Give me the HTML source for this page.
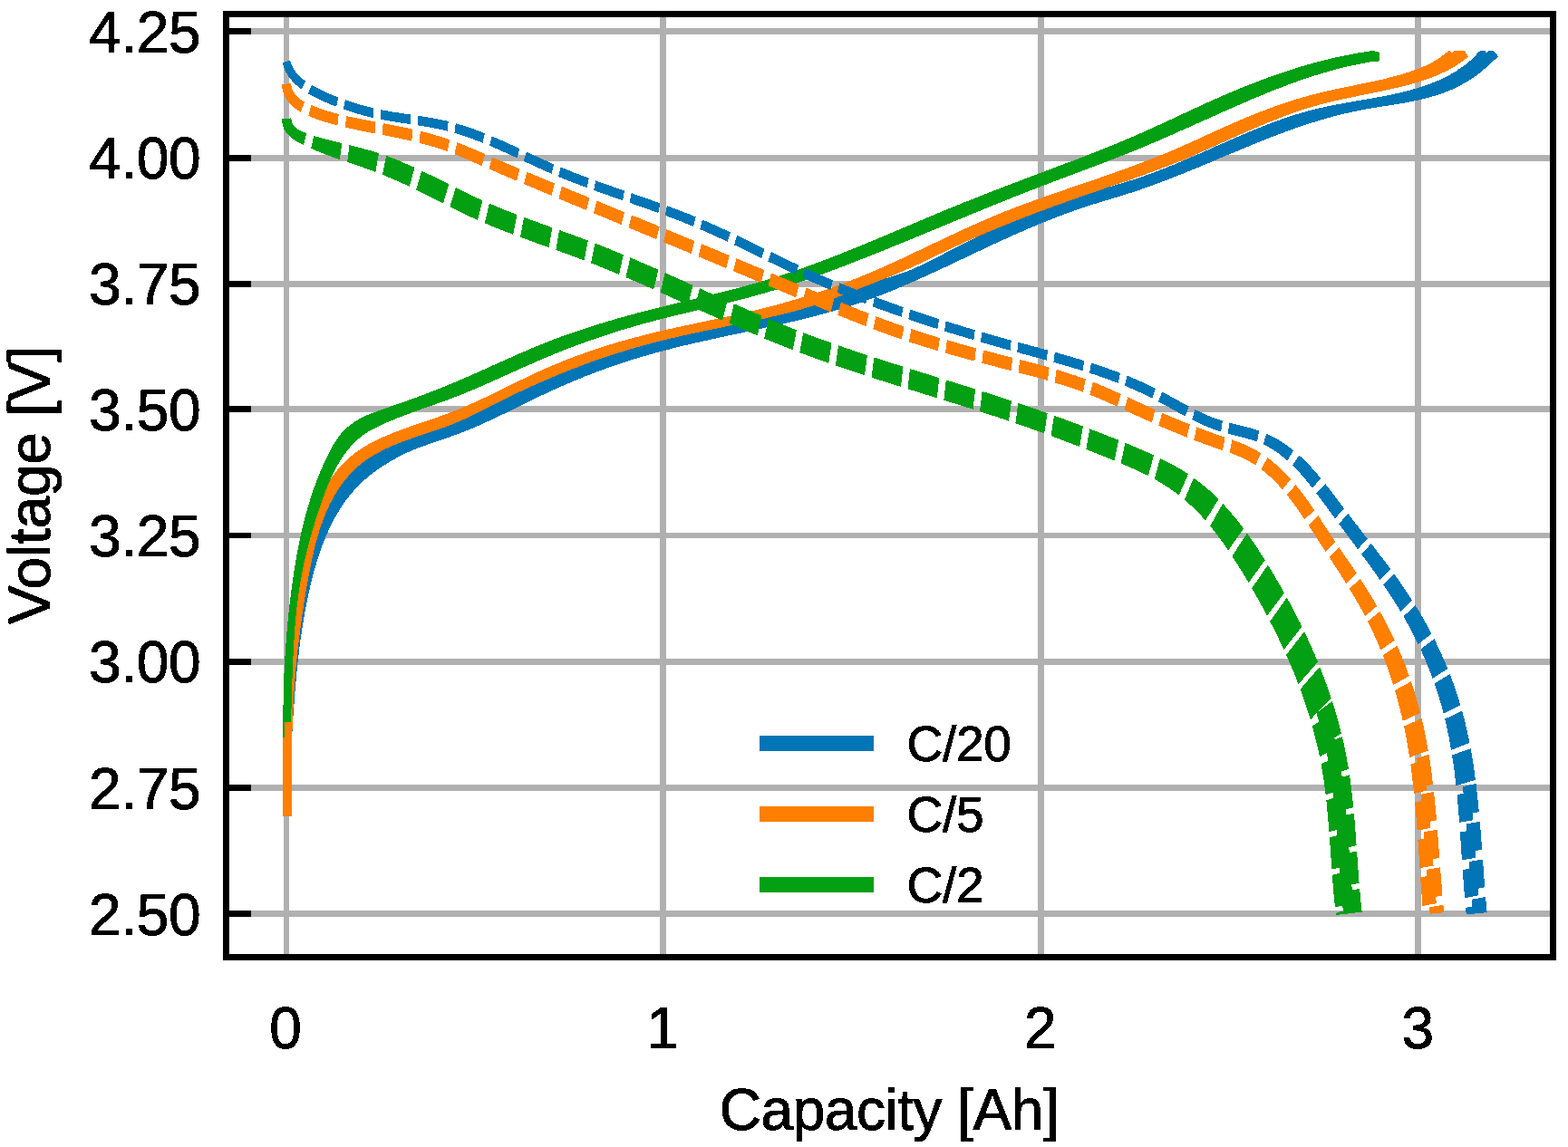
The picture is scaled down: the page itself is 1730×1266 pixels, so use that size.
<!DOCTYPE html>
<html lang="en"><head><meta charset="utf-8"><title>Voltage vs Capacity</title>
<style>
html,body{margin:0;padding:0;background:#fff;}
body{width:1730px;height:1266px;overflow:hidden;}
svg{display:block;}
text{font-family:"Liberation Sans",Arial,Helvetica,sans-serif;fill:#000;stroke:#000;stroke-width:1.0px;stroke-linejoin:round;}
</style></head>
<body>
<svg width="1730" height="1266" viewBox="0 0 1730 1266" font-size="64">
<defs><filter id="al" x="-5%" y="-5%" width="110%" height="110%" color-interpolation-filters="sRGB"><feComponentTransfer><feFuncA type="discrete" tableValues="0 1"/></feComponentTransfer></filter></defs>
<rect width="1730" height="1266" fill="#fff"/>
<g fill="#b0b0b0" shape-rendering="crispEdges">
<rect x="313" y="19" width="6" height="1034"/><rect x="728" y="19" width="7" height="1034"/><rect x="1145" y="19" width="7" height="1034"/><rect x="1561" y="19" width="7" height="1034"/><rect x="253" y="31" width="1457" height="7"/><rect x="253" y="171" width="1457" height="7"/><rect x="253" y="310" width="1457" height="7"/><rect x="253" y="448" width="1457" height="7"/><rect x="253" y="588" width="1457" height="6"/><rect x="253" y="727" width="1457" height="7"/><rect x="253" y="866" width="1457" height="7"/><rect x="253" y="1005" width="1457" height="7"/>
</g>
<g id="curves" shape-rendering="crispEdges">
<path fill="#0175b6" d="M312.3,849.0L312.2,846.0L312.1,843.0L312.0,840.0L311.9,837.0L311.9,834.0L311.9,831.0L311.9,828.0L311.9,825.0L311.9,822.0L312.0,819.0L312.1,816.0L312.2,813.0L312.3,810.0L312.5,807.0L312.6,804.0L312.8,801.0L313.0,798.0L313.2,795.0L313.4,792.1L313.6,789.1L313.9,786.1L314.1,783.1L314.4,780.1L314.7,777.1L315.0,774.1L315.3,771.2L315.6,768.2L315.9,765.2L316.2,762.2L316.5,759.2L316.9,756.2L317.2,753.3L317.5,750.3L317.9,747.3L318.3,744.3L318.6,741.3L319.0,738.4L319.3,735.4L319.7,732.4L320.1,729.4L320.4,726.4L320.8,723.5L321.2,720.5L321.5,717.5L321.9,714.5L322.3,711.5L322.6,708.6L323.0,705.6L323.3,702.6L323.7,699.6L324.1,696.6L324.5,693.7L324.8,690.7L325.2,687.7L325.6,684.7L326.0,681.8L326.4,678.8L326.8,675.8L327.2,672.9L327.7,669.9L328.1,666.9L328.6,664.0L329.0,661.0L329.5,658.0L330.0,655.1L330.5,652.1L331.0,649.2L331.5,646.2L332.1,643.3L332.6,640.3L333.2,637.4L333.8,634.4L334.4,631.5L335.0,628.6L335.7,625.7L336.3,622.7L337.0,619.8L337.7,616.9L338.4,614.0L339.2,611.1L339.9,608.2L340.7,605.3L341.5,602.4L342.3,599.5L343.2,596.6L344.0,593.7L344.9,590.9L345.8,588.0L346.7,585.1L347.7,582.3L348.6,579.4L349.6,576.6L350.6,573.8L351.7,570.9L352.7,568.1L353.8,565.3L354.9,562.5L356.0,559.7L357.2,556.9L358.4,554.2L359.6,551.4L360.9,548.7L362.2,546.0L363.6,543.4L365.1,540.8L366.6,538.2L368.2,535.7L370.0,533.2L371.8,530.9L373.7,528.6L375.7,526.3L377.9,524.2L380.0,522.2L382.3,520.2L384.6,518.3L387.0,516.5L389.4,514.7L391.9,513.0L394.4,511.2L396.8,509.4L399.3,507.7L401.7,505.9L404.2,504.1L406.7,502.5L409.2,500.9L411.8,499.5L414.5,498.2L417.2,497.1L420.1,496.2L422.9,495.2L425.7,494.3L428.5,493.2L431.3,492.0L434.0,490.7L436.7,489.4L439.4,488.1L442.1,486.7L444.7,485.4L447.5,484.1L450.2,482.8L452.9,481.7L455.7,480.5L458.5,479.5L461.3,478.4L464.2,477.5L467.0,476.5L469.9,475.6L472.8,474.7L475.6,473.8L478.5,473.0L481.4,472.1L484.3,471.2L487.2,470.4L490.0,469.5L492.9,468.6L495.7,467.6L498.6,466.6L501.4,465.6L504.2,464.5L506.9,463.4L509.7,462.2L512.4,461.0L515.2,459.8L517.9,458.5L520.6,457.2L523.3,455.9L526.0,454.6L528.6,453.2L531.3,451.8L534.0,450.5L536.6,449.1L539.3,447.7L542.0,446.3L544.6,444.9L547.3,443.5L549.9,442.1L552.6,440.7L555.3,439.3L558.0,438.0L560.7,436.6L563.4,435.3L566.1,434.0L568.8,432.7L571.5,431.3L574.2,430.0L576.9,428.8L579.6,427.5L582.3,426.2L585.0,425.0L587.8,423.7L590.5,422.5L593.3,421.2L596.0,420.0L598.7,418.8L601.5,417.6L604.3,416.4L607.0,415.3L609.8,414.1L612.5,412.9L615.3,411.8L618.1,410.7L620.9,409.5L623.7,408.4L626.5,407.3L629.2,406.2L632.0,405.1L634.8,404.1L637.6,403.0L640.5,401.9L643.3,400.9L646.1,399.9L648.9,398.8L651.7,397.8L654.5,396.8L657.4,395.8L660.2,394.9L663.0,393.9L665.9,392.9L668.7,392.0L671.6,391.0L674.4,390.1L677.3,389.2L680.1,388.3L683.0,387.4L685.8,386.5L688.7,385.6L691.6,384.7L694.4,383.9L697.3,383.0L700.2,382.2L703.1,381.4L706.0,380.5L708.8,379.7L711.7,378.9L714.6,378.1L717.5,377.4L720.4,376.6L723.3,375.8L726.2,375.1L729.1,374.3L732.0,373.6L734.9,372.9L737.8,372.1L740.8,371.4L743.7,370.7L746.6,370.0L749.5,369.3L752.4,368.7L755.4,368.0L758.3,367.3L761.2,366.7L764.1,366.0L767.1,365.3L770.0,364.7L772.9,364.1L775.9,363.4L778.8,362.8L781.8,362.2L784.7,361.6L787.6,361.0L790.6,360.3L793.5,359.7L796.5,359.1L799.4,358.6L802.4,358.0L805.3,357.4L808.3,356.8L811.2,356.2L814.2,355.6L817.1,355.0L820.1,354.5L823.0,353.9L826.0,353.3L828.9,352.7L831.9,352.1L834.8,351.5L837.8,350.9L840.7,350.3L843.6,349.6L846.6,349.0L849.5,348.3L852.4,347.7L855.3,347.0L858.3,346.3L861.2,345.6L864.1,344.9L867.0,344.2L869.9,343.5L872.8,342.7L875.7,341.9L878.6,341.1L881.4,340.3L884.3,339.5L887.2,338.6L890.0,337.7L892.9,336.8L895.7,335.9L898.6,334.9L901.4,334.0L904.2,333.0L907.0,331.9L909.8,330.9L912.6,329.8L915.4,328.8L918.2,327.7L921.0,326.6L923.8,325.5L926.6,324.4L929.4,323.3L932.2,322.2L935.0,321.2L937.8,320.1L940.6,319.0L943.4,318.0L946.3,317.0L949.1,316.0L951.9,315.1L954.8,314.1L957.7,313.2L960.5,312.3L963.4,311.5L966.3,310.6L969.2,309.7L972.1,308.9L974.9,308.0L977.8,307.1L980.7,306.3L983.6,305.4L986.4,304.5L989.3,303.5L992.1,302.6L994.9,301.6L997.8,300.6L1000.6,299.5L1003.3,298.4L1006.1,297.3L1008.9,296.1L1011.6,294.9L1014.3,293.7L1017.0,292.4L1019.8,291.1L1022.5,289.8L1025.1,288.5L1027.8,287.1L1030.5,285.8L1033.2,284.4L1035.8,283.0L1038.5,281.6L1041.2,280.2L1043.8,278.8L1046.5,277.4L1049.2,276.1L1051.8,274.7L1054.5,273.3L1057.2,271.9L1059.9,270.6L1062.5,269.2L1065.2,267.9L1067.9,266.6L1070.6,265.2L1073.3,263.9L1076.0,262.6L1078.7,261.3L1081.4,260.0L1084.1,258.7L1086.8,257.4L1089.5,256.2L1092.3,254.9L1095.0,253.7L1097.7,252.4L1100.4,251.2L1103.2,249.9L1105.9,248.7L1108.7,247.5L1111.4,246.3L1114.1,245.1L1116.9,243.9L1119.7,242.8L1122.4,241.6L1125.2,240.4L1127.9,239.3L1130.7,238.2L1133.5,237.0L1136.3,235.9L1139.0,234.8L1141.8,233.7L1144.6,232.6L1147.4,231.5L1150.2,230.5L1153.0,229.4L1155.8,228.4L1158.6,227.3L1161.4,226.3L1164.3,225.3L1167.1,224.3L1169.9,223.3L1172.7,222.3L1175.6,221.3L1178.4,220.3L1181.3,219.4L1184.1,218.4L1187.0,217.5L1189.8,216.6L1192.7,215.7L1195.6,214.7L1198.4,213.9L1201.3,213.0L1204.2,212.1L1207.1,211.2L1210.0,210.4L1212.8,209.5L1215.7,208.7L1218.6,207.9L1221.5,207.0L1224.4,206.2L1227.3,205.3L1230.2,204.5L1233.1,203.6L1235.9,202.8L1238.8,201.9L1241.7,201.0L1244.6,200.1L1247.4,199.2L1250.3,198.3L1253.1,197.4L1255.9,196.4L1258.8,195.5L1261.6,194.5L1264.4,193.5L1267.2,192.5L1270.0,191.5L1272.8,190.4L1275.6,189.4L1278.4,188.3L1281.2,187.2L1284.0,186.1L1286.8,185.0L1289.5,183.9L1292.3,182.8L1295.1,181.7L1297.8,180.5L1300.6,179.4L1303.4,178.2L1306.1,177.0L1308.9,175.9L1311.6,174.7L1314.4,173.5L1317.2,172.3L1319.9,171.1L1322.7,169.9L1325.4,168.7L1328.2,167.4L1330.9,166.2L1333.7,165.0L1336.4,163.8L1339.2,162.6L1341.9,161.3L1344.7,160.1L1347.4,158.9L1350.2,157.7L1353.0,156.4L1355.7,155.2L1358.5,154.0L1361.2,152.8L1364.0,151.6L1366.8,150.4L1369.5,149.2L1372.3,148.0L1375.1,146.9L1377.9,145.7L1380.6,144.5L1383.4,143.4L1386.2,142.3L1389.0,141.1L1391.8,140.0L1394.6,138.9L1397.4,137.8L1400.2,136.7L1403.0,135.7L1405.8,134.6L1408.6,133.6L1411.4,132.6L1414.2,131.6L1417.1,130.6L1419.9,129.6L1422.7,128.7L1425.6,127.8L1428.4,126.8L1431.3,126.0L1434.1,125.1L1437.0,124.3L1439.9,123.4L1442.8,122.6L1445.6,121.9L1448.5,121.1L1451.4,120.4L1454.3,119.7L1457.3,119.0L1460.2,118.4L1463.1,117.7L1466.0,117.1L1469.0,116.5L1471.9,115.9L1474.8,115.4L1477.8,114.8L1480.7,114.3L1483.7,113.7L1486.6,113.2L1489.6,112.7L1492.6,112.2L1495.5,111.7L1498.5,111.1L1501.5,110.6L1504.4,110.1L1507.4,109.6L1510.3,109.1L1513.3,108.6L1516.3,108.0L1519.2,107.5L1522.2,107.0L1525.1,106.4L1528.1,105.8L1531.0,105.3L1534.0,104.7L1536.9,104.0L1539.8,103.4L1542.8,102.7L1545.7,102.1L1548.6,101.4L1551.5,100.6L1554.4,99.9L1557.3,99.1L1560.2,98.3L1563.1,97.4L1566.0,96.5L1568.8,95.6L1571.7,94.7L1574.5,93.7L1577.3,92.7L1580.1,91.6L1582.9,90.5L1585.6,89.4L1588.3,88.2L1591.0,86.9L1593.7,85.6L1596.4,84.3L1599.0,82.9L1601.6,81.4L1604.2,79.9L1606.7,78.4L1609.2,76.7L1611.7,75.1L1614.1,73.3L1616.6,71.5L1618.9,69.6L1621.3,67.7L1623.5,65.7L1625.8,63.6L1628.0,61.5L1631.3,57.0L1635.3,55.9L1638.0,55.9L1640.0,58.3L1642.4,55.9L1647.6,55.9L1653.1,62.3L1653.1,62.3L1643.2,71.3L1641.0,73.3L1638.8,75.3L1636.5,77.3L1634.2,79.2L1631.9,81.0L1629.5,82.8L1627.0,84.6L1624.5,86.3L1622.0,88.0L1619.5,89.6L1616.9,91.1L1614.3,92.6L1611.6,94.1L1609.0,95.4L1606.3,96.8L1603.6,98.0L1600.8,99.3L1598.1,100.4L1595.3,101.5L1592.5,102.6L1589.7,103.6L1586.9,104.5L1584.1,105.4L1581.2,106.3L1578.3,107.1L1575.5,107.9L1572.6,108.6L1569.7,109.4L1566.8,110.0L1563.8,110.7L1560.9,111.3L1558.0,111.9L1555.0,112.5L1552.1,113.1L1549.1,113.6L1546.1,114.1L1543.2,114.6L1540.2,115.1L1537.2,115.6L1534.2,116.1L1531.2,116.6L1528.3,117.0L1525.3,117.5L1522.3,118.0L1519.3,118.5L1516.3,119.0L1513.4,119.5L1510.4,120.0L1507.4,120.5L1504.4,121.0L1501.5,121.6L1498.5,122.2L1495.6,122.8L1492.6,123.4L1489.7,124.0L1486.8,124.7L1483.9,125.3L1481.0,126.0L1478.1,126.8L1475.2,127.5L1472.3,128.3L1469.4,129.0L1466.5,129.8L1463.6,130.6L1460.7,131.5L1457.9,132.3L1455.0,133.2L1452.1,134.0L1449.3,134.9L1446.4,135.8L1443.6,136.7L1440.8,137.7L1437.9,138.6L1435.1,139.6L1432.3,140.5L1429.4,141.5L1426.6,142.5L1423.8,143.5L1421.0,144.5L1418.2,145.6L1415.4,146.6L1412.6,147.6L1409.8,148.7L1407.0,149.8L1404.2,150.8L1401.4,151.9L1398.6,153.0L1395.8,154.1L1393.0,155.2L1390.3,156.3L1387.5,157.4L1384.7,158.6L1381.9,159.7L1379.1,160.8L1376.4,162.0L1373.6,163.1L1370.8,164.3L1368.1,165.4L1365.3,166.6L1362.5,167.7L1359.7,168.9L1357.0,170.1L1354.2,171.2L1351.4,172.4L1348.7,173.6L1345.9,174.7L1343.1,175.9L1340.4,177.1L1337.6,178.2L1334.8,179.4L1332.1,180.5L1329.3,181.7L1326.5,182.9L1323.7,184.0L1321.0,185.2L1318.2,186.3L1315.4,187.5L1312.6,188.6L1309.9,189.7L1307.1,190.9L1304.3,192.0L1301.5,193.1L1298.7,194.2L1295.9,195.3L1293.1,196.4L1290.3,197.5L1287.5,198.6L1284.7,199.7L1281.9,200.7L1279.1,201.8L1276.3,202.8L1273.5,203.9L1270.7,204.9L1267.8,205.9L1265.0,206.9L1262.2,207.9L1259.3,208.9L1256.5,209.9L1253.7,210.8L1250.8,211.8L1248.0,212.7L1245.1,213.6L1242.2,214.5L1239.4,215.4L1236.5,216.3L1233.6,217.2L1230.8,218.0L1227.9,218.9L1225.0,219.8L1222.1,220.7L1219.3,221.5L1216.4,222.4L1213.5,223.3L1210.7,224.2L1207.8,225.1L1204.9,226.0L1202.1,226.9L1199.2,227.8L1196.4,228.7L1193.6,229.7L1190.7,230.7L1187.9,231.6L1185.1,232.6L1182.3,233.6L1179.4,234.6L1176.6,235.7L1173.8,236.7L1171.0,237.8L1168.2,238.8L1165.4,239.9L1162.6,241.0L1159.9,242.1L1157.1,243.2L1154.3,244.3L1151.5,245.4L1148.8,246.5L1146.0,247.6L1143.2,248.8L1140.5,250.0L1137.7,251.1L1134.9,252.3L1132.2,253.5L1129.4,254.7L1126.7,255.9L1124.0,257.1L1121.2,258.3L1118.5,259.5L1115.7,260.7L1113.0,261.9L1110.3,263.2L1107.5,264.4L1104.8,265.7L1102.1,266.9L1099.4,268.2L1096.6,269.4L1093.9,270.7L1091.2,272.0L1088.5,273.2L1085.8,274.5L1083.0,275.8L1080.3,277.1L1077.6,278.4L1074.9,279.6L1072.2,280.9L1069.5,282.2L1066.7,283.5L1064.0,284.8L1061.3,286.1L1058.6,287.4L1055.9,288.7L1053.2,290.0L1050.4,291.2L1047.7,292.5L1045.0,293.8L1042.3,295.1L1039.6,296.4L1036.8,297.6L1034.1,298.9L1031.4,300.2L1028.7,301.4L1025.9,302.7L1023.2,303.9L1020.5,305.2L1017.7,306.4L1015.0,307.7L1012.3,308.9L1009.5,310.1L1006.8,311.3L1004.0,312.5L1001.3,313.7L998.5,314.9L995.8,316.1L993.0,317.2L990.2,318.4L987.5,319.6L984.7,320.7L981.9,321.8L979.2,322.9L976.4,324.0L973.6,325.1L970.8,326.2L968.0,327.3L965.2,328.3L962.4,329.4L959.6,330.4L956.8,331.4L953.9,332.4L951.1,333.4L948.3,334.4L945.5,335.3L942.6,336.3L939.8,337.2L936.9,338.1L934.1,339.0L931.2,339.9L928.3,340.7L925.5,341.6L922.6,342.4L919.7,343.3L916.8,344.1L914.0,344.9L911.1,345.7L908.2,346.5L905.3,347.3L902.4,348.0L899.5,348.8L896.6,349.5L893.7,350.3L890.8,351.0L887.9,351.7L884.9,352.5L882.0,353.2L879.1,353.9L876.2,354.6L873.3,355.2L870.3,355.9L867.4,356.6L864.5,357.3L861.6,357.9L858.6,358.6L855.7,359.2L852.8,359.9L849.8,360.5L846.9,361.2L844.0,361.8L841.0,362.5L838.1,363.1L835.2,363.7L832.2,364.4L829.3,365.0L826.3,365.6L823.4,366.2L820.5,366.9L817.5,367.5L814.6,368.1L811.7,368.7L808.7,369.4L805.8,370.0L802.9,370.6L799.9,371.3L797.0,371.9L794.1,372.5L791.1,373.2L788.2,373.8L785.3,374.5L782.3,375.1L779.4,375.8L776.5,376.4L773.6,377.1L770.6,377.7L767.7,378.4L764.8,379.1L761.9,379.8L759.0,380.4L756.1,381.1L753.1,381.8L750.2,382.5L747.3,383.3L744.4,384.0L741.5,384.7L738.6,385.5L735.7,386.2L732.8,387.0L729.9,387.7L727.0,388.5L724.1,389.3L721.2,390.1L718.4,390.9L715.5,391.7L712.6,392.5L709.7,393.3L706.8,394.2L704.0,395.1L701.1,395.9L698.2,396.8L695.4,397.7L692.5,398.6L689.7,399.5L686.8,400.5L684.0,401.4L681.1,402.4L678.3,403.3L675.5,404.3L672.6,405.3L669.8,406.3L667.0,407.4L664.2,408.4L661.3,409.4L658.5,410.5L655.7,411.5L652.9,412.6L650.1,413.7L647.3,414.8L644.5,415.9L641.7,417.0L639.0,418.2L636.2,419.3L633.4,420.5L630.6,421.6L627.9,422.8L625.1,424.0L622.4,425.2L619.6,426.4L616.9,427.6L614.1,428.8L611.4,430.0L608.7,431.3L605.9,432.5L603.2,433.8L600.5,435.1L597.8,436.3L595.1,437.6L592.4,438.9L589.7,440.2L587.0,441.5L584.3,442.9L581.6,444.2L578.9,445.5L576.2,446.8L573.5,448.1L570.9,449.5L568.2,450.8L565.5,452.1L562.8,453.4L560.1,454.8L557.4,456.1L554.7,457.4L552.0,458.7L549.3,460.0L546.6,461.3L543.8,462.5L541.1,463.8L538.4,465.1L535.7,466.3L532.9,467.6L530.2,468.8L527.4,470.0L524.7,471.2L521.9,472.4L519.1,473.5L516.4,474.7L513.6,475.8L510.8,476.9L508.0,478.0L505.2,479.1L502.4,480.1L499.6,481.1L496.8,482.1L493.9,483.1L491.1,484.1L488.3,485.1L485.5,486.0L482.6,487.0L479.8,487.9L477.0,488.9L474.2,489.9L471.4,490.9L468.5,491.9L465.7,492.9L463.0,493.9L460.2,495.0L457.4,496.1L454.7,497.2L451.9,498.4L449.2,499.6L446.5,500.9L443.8,502.2L441.1,503.6L438.4,505.0L435.8,506.4L433.2,507.9L430.6,509.4L428.0,511.0L425.4,512.6L422.8,514.2L420.2,515.9L417.7,517.6L415.2,519.4L412.7,521.2L410.3,523.0L407.9,524.9L405.5,526.9L403.2,528.8L401.0,530.8L398.7,532.9L396.6,535.0L394.5,537.1L392.4,539.3L390.4,541.5L388.5,543.7L386.6,546.0L384.7,548.3L382.9,550.7L381.1,553.0L379.4,555.4L377.7,557.9L376.1,560.4L374.5,562.9L373.0,565.4L371.5,567.9L370.0,570.5L368.6,573.1L367.2,575.8L365.8,578.4L364.5,581.1L363.2,583.8L362.0,586.5L360.8,589.2L359.6,592.0L358.4,594.8L357.3,597.6L356.2,600.4L355.2,603.2L354.2,606.0L353.2,608.9L352.2,611.7L351.3,614.6L350.3,617.5L349.5,620.4L348.6,623.3L347.7,626.2L346.9,629.1L346.1,632.0L345.3,634.9L344.6,637.8L343.8,640.8L343.1,643.7L342.4,646.6L341.7,649.6L341.1,652.5L340.4,655.4L339.8,658.4L339.2,661.3L338.6,664.3L338.0,667.2L337.4,670.1L336.8,673.1L336.3,676.0L335.8,679.0L335.3,681.9L334.8,684.9L334.3,687.9L333.8,690.8L333.4,693.8L332.9,696.7L332.5,699.7L332.1,702.6L331.6,705.6L331.2,708.6L330.9,711.5L330.5,714.5L330.1,717.5L329.8,720.5L329.4,723.4L329.1,726.4L328.7,729.4L328.4,732.4L328.1,735.3L327.8,738.3L327.5,741.3L327.2,744.3L327.0,747.3L326.7,750.2L326.4,753.2L326.2,756.2L325.9,759.2L325.6,762.2L325.4,765.2L325.2,768.2L324.9,771.1L324.7,774.1L324.5,777.1L324.3,780.1L324.0,783.1L323.8,786.1L323.6,789.1L323.4,792.1L323.2,795.1L323.1,798.1L322.9,801.1L322.7,804.1L322.5,807.1L322.3,810.1L322.2,813.1L322.0,816.1L321.9,819.1L321.7,822.1L321.6,825.1L321.4,828.1L321.3,831.0L321.1,834.0L321.0,837.0L320.9,840.0L320.7,843.0L320.6,846.0L320.5,849.0Z"/>
<path fill="#ff7f00" d="M312.5,901.0L312.4,898.0L312.3,895.0L312.2,892.0L312.2,889.1L312.1,886.1L312.0,883.1L312.0,880.1L312.0,877.1L311.9,874.1L311.9,871.1L311.9,868.1L311.8,865.1L311.8,862.1L311.8,859.1L311.8,856.1L311.8,853.1L311.8,850.1L311.9,847.1L311.9,844.1L311.9,841.1L312.0,838.1L312.0,835.1L312.1,832.1L312.1,829.1L312.2,826.1L312.3,823.1L312.4,820.1L312.4,817.1L312.5,814.1L312.6,811.1L312.7,808.1L312.9,805.1L313.0,802.1L313.1,799.1L313.2,796.1L313.4,793.1L313.5,790.1L313.7,787.1L313.8,784.1L314.0,781.1L314.2,778.1L314.3,775.1L314.5,772.1L314.7,769.1L314.9,766.1L315.1,763.2L315.3,760.2L315.5,757.2L315.8,754.2L316.0,751.2L316.2,748.2L316.5,745.2L316.7,742.3L317.0,739.3L317.2,736.3L317.5,733.3L317.7,730.3L318.0,727.4L318.3,724.4L318.6,721.4L318.9,718.4L319.1,715.5L319.4,712.5L319.7,709.5L320.0,706.5L320.4,703.5L320.7,700.6L321.0,697.6L321.3,694.6L321.6,691.6L322.0,688.7L322.3,685.7L322.6,682.7L323.0,679.7L323.3,676.7L323.6,673.7L324.0,670.8L324.3,667.8L324.7,664.8L325.1,661.8L325.5,658.8L325.8,655.9L326.2,652.9L326.6,649.9L327.1,646.9L327.5,643.9L327.9,641.0L328.4,638.0L328.9,635.0L329.3,632.1L329.8,629.1L330.4,626.2L330.9,623.2L331.5,620.3L332.0,617.3L332.6,614.4L333.2,611.4L333.9,608.5L334.5,605.6L335.2,602.7L335.9,599.8L336.6,596.9L337.4,594.0L338.2,591.1L339.0,588.2L339.8,585.3L340.7,582.5L341.6,579.6L342.5,576.8L343.5,573.9L344.5,571.1L345.5,568.3L346.5,565.4L347.6,562.6L348.7,559.8L349.9,557.1L351.1,554.3L352.3,551.5L353.6,548.8L354.9,546.1L356.3,543.4L357.7,540.7L359.1,538.1L360.6,535.5L362.2,532.9L363.8,530.4L365.4,527.9L367.1,525.4L368.9,523.0L370.7,520.6L372.5,518.3L374.5,516.1L376.5,513.9L378.5,511.7L380.6,509.6L382.8,507.6L385.0,505.6L387.3,503.6L389.6,501.8L391.9,499.9L394.3,498.2L396.8,496.5L399.3,494.8L401.8,493.2L404.4,491.7L407.0,490.2L409.6,488.8L412.3,487.4L415.0,486.0L417.7,484.7L420.4,483.5L423.1,482.2L425.9,481.0L428.7,479.9L431.4,478.7L434.2,477.6L437.0,476.5L439.8,475.4L442.6,474.4L445.5,473.4L448.3,472.3L451.1,471.3L453.9,470.3L456.8,469.3L459.6,468.4L462.5,467.4L465.3,466.4L468.1,465.4L471.0,464.5L473.8,463.5L476.7,462.5L479.5,461.5L482.3,460.6L485.2,459.6L488.0,458.6L490.8,457.5L493.6,456.5L496.4,455.4L499.2,454.4L502.0,453.3L504.8,452.2L507.5,451.0L510.3,449.9L513.1,448.7L515.8,447.5L518.6,446.3L521.3,445.1L524.0,443.9L526.7,442.6L529.5,441.4L532.2,440.1L534.9,438.8L537.6,437.5L540.3,436.2L543.0,434.9L545.7,433.6L548.4,432.3L551.1,431.0L553.8,429.7L556.5,428.3L559.2,427.0L561.9,425.7L564.6,424.4L567.3,423.0L569.9,421.7L572.6,420.4L575.3,419.1L578.0,417.8L580.7,416.5L583.5,415.2L586.2,413.9L588.9,412.6L591.6,411.4L594.3,410.1L597.0,408.9L599.8,407.6L602.5,406.4L605.3,405.2L608.0,404.0L610.8,402.9L613.5,401.7L616.3,400.6L619.1,399.4L621.9,398.3L624.7,397.2L627.4,396.1L630.2,395.0L633.0,394.0L635.9,392.9L638.7,391.9L641.5,390.9L644.3,389.9L647.1,388.9L650.0,387.9L652.8,386.9L655.6,385.9L658.5,385.0L661.3,384.1L664.2,383.1L667.0,382.2L669.9,381.3L672.7,380.4L675.6,379.6L678.5,378.7L681.4,377.8L684.2,377.0L687.1,376.2L690.0,375.4L692.9,374.6L695.8,373.8L698.7,373.0L701.6,372.2L704.5,371.5L707.4,370.7L710.3,370.0L713.2,369.2L716.1,368.5L719.0,367.8L721.9,367.1L724.8,366.4L727.7,365.7L730.6,365.0L733.6,364.4L736.5,363.7L739.4,363.0L742.3,362.4L745.3,361.7L748.2,361.1L751.1,360.4L754.0,359.8L757.0,359.2L759.9,358.5L762.8,357.9L765.8,357.3L768.7,356.6L771.6,356.0L774.5,355.4L777.5,354.8L780.4,354.2L783.3,353.5L786.3,352.9L789.2,352.3L792.1,351.6L795.1,351.0L798.0,350.4L800.9,349.8L803.9,349.1L806.8,348.5L809.7,347.8L812.6,347.2L815.6,346.5L818.5,345.9L821.4,345.2L824.3,344.5L827.2,343.8L830.2,343.1L833.1,342.4L836.0,341.7L838.9,341.0L841.8,340.3L844.7,339.6L847.6,338.8L850.5,338.1L853.4,337.3L856.3,336.6L859.2,335.8L862.1,335.0L865.0,334.2L867.9,333.4L870.8,332.5L873.6,331.7L876.5,330.9L879.4,330.0L882.3,329.1L885.1,328.3L888.0,327.4L890.9,326.5L893.7,325.6L896.6,324.6L899.4,323.7L902.3,322.8L905.1,321.8L908.0,320.9L910.8,319.9L913.6,318.9L916.4,317.9L919.3,316.9L922.1,315.9L924.9,314.8L927.7,313.8L930.5,312.8L933.3,311.7L936.1,310.6L938.9,309.5L941.7,308.4L944.5,307.3L947.3,306.2L950.1,305.1L952.8,303.9L955.6,302.8L958.4,301.6L961.1,300.5L963.9,299.3L966.6,298.1L969.4,296.9L972.1,295.7L974.8,294.5L977.6,293.2L980.3,292.0L983.0,290.8L985.8,289.5L988.5,288.3L991.2,287.0L993.9,285.8L996.7,284.5L999.4,283.2L1002.1,282.0L1004.8,280.7L1007.5,279.4L1010.2,278.1L1012.9,276.8L1015.6,275.6L1018.4,274.3L1021.1,273.0L1023.8,271.7L1026.5,270.4L1029.2,269.1L1031.9,267.8L1034.6,266.5L1037.3,265.2L1040.0,264.0L1042.7,262.7L1045.4,261.4L1048.2,260.1L1050.9,258.8L1053.6,257.6L1056.3,256.3L1059.0,255.0L1061.7,253.8L1064.5,252.5L1067.2,251.3L1069.9,250.0L1072.6,248.8L1075.4,247.6L1078.1,246.4L1080.9,245.1L1083.6,243.9L1086.3,242.8L1089.1,241.6L1091.8,240.4L1094.6,239.2L1097.4,238.1L1100.1,236.9L1102.9,235.8L1105.7,234.7L1108.5,233.5L1111.2,232.4L1114.0,231.4L1116.8,230.3L1119.6,229.2L1122.4,228.1L1125.2,227.1L1128.0,226.0L1130.8,225.0L1133.6,223.9L1136.5,222.9L1139.3,221.9L1142.1,220.9L1144.9,219.8L1147.7,218.8L1150.6,217.8L1153.4,216.8L1156.2,215.8L1159.0,214.9L1161.9,213.9L1164.7,212.9L1167.5,211.9L1170.4,210.9L1173.2,210.0L1176.1,209.0L1178.9,208.0L1181.7,207.1L1184.6,206.1L1187.4,205.1L1190.3,204.1L1193.1,203.2L1195.9,202.2L1198.8,201.2L1201.6,200.3L1204.4,199.3L1207.3,198.3L1210.1,197.3L1212.9,196.4L1215.8,195.4L1218.6,194.4L1221.4,193.4L1224.3,192.4L1227.1,191.4L1229.9,190.4L1232.7,189.4L1235.6,188.4L1238.4,187.4L1241.2,186.4L1244.0,185.4L1246.8,184.3L1249.6,183.3L1252.4,182.2L1255.3,181.2L1258.1,180.1L1260.9,179.1L1263.7,178.0L1266.4,176.9L1269.2,175.9L1272.0,174.8L1274.8,173.7L1277.6,172.6L1280.4,171.4L1283.2,170.3L1285.9,169.2L1288.7,168.0L1291.5,166.9L1294.2,165.7L1297.0,164.5L1299.7,163.3L1302.5,162.1L1305.2,160.9L1308.0,159.7L1310.7,158.5L1313.4,157.3L1316.2,156.0L1318.9,154.8L1321.6,153.5L1324.3,152.3L1327.1,151.0L1329.8,149.8L1332.5,148.5L1335.2,147.3L1338.0,146.0L1340.7,144.8L1343.4,143.5L1346.2,142.3L1348.9,141.0L1351.6,139.8L1354.4,138.6L1357.1,137.4L1359.9,136.2L1362.6,135.0L1365.4,133.8L1368.1,132.6L1370.9,131.4L1373.6,130.3L1376.4,129.1L1379.2,128.0L1382.0,126.8L1384.7,125.7L1387.5,124.6L1390.3,123.5L1393.1,122.4L1395.9,121.4L1398.7,120.3L1401.5,119.3L1404.3,118.2L1407.1,117.2L1409.9,116.2L1412.8,115.2L1415.6,114.2L1418.4,113.3L1421.3,112.4L1424.1,111.4L1427.0,110.5L1429.8,109.6L1432.7,108.8L1435.6,107.9L1438.4,107.1L1441.3,106.3L1444.2,105.5L1447.1,104.7L1450.0,103.9L1452.9,103.2L1455.8,102.5L1458.8,101.8L1461.7,101.1L1464.6,100.4L1467.5,99.8L1470.5,99.1L1473.4,98.5L1476.4,97.9L1479.3,97.3L1482.3,96.6L1485.2,96.0L1488.2,95.4L1491.1,94.8L1494.1,94.2L1497.0,93.6L1500.0,93.0L1502.9,92.4L1505.9,91.8L1508.8,91.2L1511.7,90.6L1514.7,89.9L1517.6,89.3L1520.5,88.6L1523.5,88.0L1526.4,87.3L1529.3,86.6L1532.2,85.8L1535.1,85.1L1538.0,84.3L1540.9,83.6L1543.8,82.8L1546.6,81.9L1549.5,81.1L1552.4,80.2L1555.2,79.3L1558.0,78.3L1560.8,77.3L1563.6,76.3L1566.4,75.2L1569.1,74.1L1571.9,72.9L1574.6,71.6L1577.2,70.3L1579.9,68.9L1582.5,67.4L1585.0,65.9L1587.5,64.2L1590.0,62.5L1599.0,55.9L1599.8,55.9L1601.0,58.6L1605.3,55.9L1616.0,55.9L1620.0,63.0L1620.0,63.0L1611.6,69.0L1609.1,70.7L1606.6,72.3L1604.0,73.9L1601.4,75.4L1598.8,76.9L1596.2,78.2L1593.5,79.6L1590.8,80.8L1588.1,82.1L1585.4,83.2L1582.6,84.4L1579.8,85.5L1577.0,86.5L1574.2,87.5L1571.4,88.5L1568.6,89.4L1565.7,90.3L1562.8,91.1L1559.9,92.0L1557.1,92.8L1554.2,93.6L1551.3,94.3L1548.3,95.1L1545.4,95.8L1542.5,96.5L1539.6,97.2L1536.7,97.9L1533.7,98.5L1530.8,99.2L1527.9,99.8L1524.9,100.5L1522.0,101.1L1519.0,101.7L1516.1,102.3L1513.1,102.9L1510.2,103.5L1507.2,104.1L1504.3,104.7L1501.4,105.3L1498.4,105.9L1495.5,106.5L1492.5,107.1L1489.6,107.8L1486.7,108.4L1483.7,109.0L1480.8,109.6L1477.9,110.3L1474.9,111.0L1472.0,111.6L1469.1,112.3L1466.2,113.0L1463.3,113.7L1460.4,114.5L1457.5,115.2L1454.6,116.0L1451.7,116.8L1448.9,117.6L1446.0,118.5L1443.1,119.3L1440.3,120.2L1437.4,121.1L1434.6,122.0L1431.8,123.0L1429.0,124.0L1426.1,124.9L1423.3,125.9L1420.5,127.0L1417.7,128.0L1414.9,129.0L1412.1,130.1L1409.3,131.2L1406.5,132.3L1403.8,133.4L1401.0,134.5L1398.2,135.6L1395.4,136.8L1392.7,137.9L1389.9,139.1L1387.2,140.3L1384.4,141.5L1381.7,142.7L1378.9,143.9L1376.1,145.1L1373.4,146.3L1370.7,147.5L1367.9,148.7L1365.2,149.9L1362.4,151.2L1359.7,152.4L1356.9,153.6L1354.2,154.9L1351.5,156.1L1348.7,157.3L1346.0,158.6L1343.2,159.8L1340.5,161.1L1337.8,162.3L1335.0,163.5L1332.3,164.7L1329.5,166.0L1326.8,167.2L1324.0,168.4L1321.3,169.6L1318.5,170.8L1315.8,172.0L1313.0,173.2L1310.2,174.4L1307.5,175.5L1304.7,176.7L1301.9,177.8L1299.2,179.0L1296.4,180.1L1293.6,181.2L1290.8,182.3L1288.0,183.4L1285.2,184.5L1282.4,185.5L1279.6,186.6L1276.8,187.6L1274.0,188.7L1271.2,189.7L1268.4,190.8L1265.6,191.8L1262.8,192.8L1260.0,193.8L1257.1,194.8L1254.3,195.8L1251.5,196.8L1248.7,197.8L1245.8,198.8L1243.0,199.8L1240.2,200.7L1237.4,201.7L1234.5,202.7L1231.7,203.7L1228.9,204.6L1226.0,205.6L1223.2,206.6L1220.4,207.5L1217.5,208.5L1214.7,209.5L1211.9,210.4L1209.0,211.4L1206.2,212.4L1203.4,213.4L1200.5,214.3L1197.7,215.3L1194.9,216.3L1192.0,217.3L1189.2,218.3L1186.4,219.3L1183.6,220.3L1180.7,221.3L1177.9,222.3L1175.1,223.3L1172.3,224.3L1169.5,225.3L1166.6,226.3L1163.8,227.3L1161.0,228.4L1158.2,229.4L1155.4,230.4L1152.6,231.5L1149.8,232.5L1146.9,233.6L1144.1,234.6L1141.3,235.7L1138.5,236.8L1135.7,237.8L1132.9,238.9L1130.1,240.0L1127.4,241.1L1124.6,242.2L1121.8,243.2L1119.0,244.4L1116.2,245.5L1113.4,246.6L1110.6,247.7L1107.9,248.8L1105.1,249.9L1102.3,251.1L1099.5,252.2L1096.8,253.4L1094.0,254.5L1091.2,255.7L1088.5,256.9L1085.7,258.0L1083.0,259.2L1080.2,260.4L1077.5,261.6L1074.7,262.8L1072.0,264.0L1069.3,265.2L1066.5,266.5L1063.8,267.7L1061.1,268.9L1058.3,270.2L1055.6,271.4L1052.9,272.7L1050.2,274.0L1047.5,275.3L1044.8,276.5L1042.1,277.8L1039.4,279.1L1036.7,280.4L1034.0,281.7L1031.3,283.0L1028.6,284.3L1025.9,285.6L1023.1,286.9L1020.4,288.2L1017.7,289.5L1015.0,290.8L1012.3,292.1L1009.6,293.3L1006.9,294.6L1004.1,295.8L1001.4,297.0L998.7,298.2L995.9,299.4L993.2,300.6L990.4,301.8L987.6,302.9L984.9,304.0L982.1,305.2L979.3,306.3L976.5,307.4L973.7,308.5L970.9,309.6L968.2,310.7L965.4,311.8L962.6,312.9L959.8,314.0L957.0,315.1L954.2,316.2L951.4,317.3L948.6,318.4L945.8,319.5L943.0,320.6L940.2,321.7L937.4,322.8L934.6,323.9L931.8,324.9L929.0,326.0L926.2,327.1L923.4,328.2L920.6,329.2L917.8,330.3L915.0,331.3L912.2,332.3L909.4,333.3L906.6,334.3L903.7,335.3L900.9,336.2L898.0,337.1L895.2,338.1L892.3,338.9L889.5,339.8L886.6,340.7L883.7,341.5L880.9,342.3L878.0,343.1L875.1,343.9L872.2,344.6L869.3,345.4L866.4,346.1L863.5,346.9L860.6,347.6L857.7,348.3L854.8,349.0L851.9,349.6L848.9,350.3L846.0,351.0L843.1,351.6L840.2,352.2L837.2,352.9L834.3,353.5L831.4,354.1L828.4,354.7L825.5,355.4L822.6,356.0L819.6,356.6L816.7,357.2L813.7,357.8L810.8,358.4L807.8,359.0L804.9,359.6L802.0,360.2L799.0,360.8L796.1,361.4L793.1,362.0L790.2,362.6L787.3,363.2L784.3,363.8L781.4,364.4L778.4,365.0L775.5,365.6L772.6,366.3L769.6,366.9L766.7,367.5L763.8,368.2L760.8,368.8L757.9,369.5L755.0,370.1L752.1,370.8L749.1,371.5L746.2,372.2L743.3,372.8L740.4,373.5L737.5,374.2L734.5,374.9L731.6,375.7L728.7,376.4L725.8,377.1L722.9,377.9L720.0,378.6L717.1,379.4L714.2,380.1L711.3,380.9L708.4,381.7L705.6,382.5L702.7,383.3L699.8,384.2L696.9,385.0L694.1,385.9L691.2,386.7L688.3,387.6L685.5,388.5L682.6,389.4L679.8,390.3L676.9,391.2L674.1,392.1L671.2,393.1L668.4,394.0L665.6,395.0L662.7,395.9L659.9,396.9L657.1,397.9L654.2,398.9L651.4,399.9L648.6,401.0L645.8,402.0L643.0,403.0L640.2,404.1L637.4,405.2L634.6,406.2L631.8,407.3L629.0,408.4L626.2,409.5L623.5,410.6L620.7,411.7L617.9,412.9L615.1,414.0L612.4,415.2L609.6,416.3L606.8,417.5L604.1,418.7L601.3,419.9L598.6,421.1L595.8,422.3L593.1,423.5L590.4,424.7L587.6,426.0L584.9,427.2L582.2,428.4L579.4,429.7L576.7,431.0L574.0,432.2L571.3,433.5L568.6,434.8L565.9,436.1L563.2,437.4L560.5,438.7L557.8,440.1L555.1,441.4L552.4,442.7L549.7,444.1L547.0,445.4L544.4,446.8L541.7,448.2L539.0,449.5L536.3,450.9L533.7,452.3L531.0,453.6L528.3,455.0L525.6,456.3L522.9,457.6L520.2,458.9L517.5,460.2L514.8,461.5L512.1,462.7L509.4,464.0L506.7,465.2L503.9,466.3L501.2,467.5L498.4,468.6L495.6,469.7L492.8,470.7L490.0,471.8L487.2,472.8L484.4,473.8L481.6,474.7L478.7,475.7L475.9,476.7L473.1,477.6L470.2,478.5L467.4,479.5L464.5,480.4L461.7,481.4L458.9,482.3L456.0,483.3L453.2,484.3L450.4,485.3L447.5,486.3L444.7,487.4L441.9,488.5L439.1,489.6L436.3,490.7L433.5,491.9L430.8,493.1L428.0,494.3L425.3,495.6L422.6,496.9L419.9,498.3L417.3,499.7L414.6,501.1L412.0,502.6L409.5,504.2L406.9,505.8L404.5,507.5L402.0,509.2L399.6,511.0L397.3,512.9L395.0,514.9L392.8,516.9L390.7,518.9L388.5,521.1L386.5,523.2L384.5,525.4L382.5,527.7L380.6,530.0L378.8,532.4L377.0,534.8L375.3,537.2L373.6,539.7L372.0,542.2L370.4,544.7L368.9,547.2L367.5,549.8L366.1,552.4L364.7,555.1L363.4,557.7L362.1,560.4L360.9,563.1L359.7,565.8L358.5,568.6L357.4,571.4L356.4,574.1L355.4,577.0L354.4,579.8L353.4,582.6L352.5,585.5L351.6,588.4L350.7,591.2L349.9,594.1L349.1,597.1L348.3,600.0L347.6,602.9L346.8,605.9L346.1,608.8L345.5,611.8L344.8,614.7L344.2,617.7L343.5,620.7L342.9,623.7L342.3,626.6L341.8,629.6L341.2,632.6L340.6,635.6L340.1,638.6L339.6,641.6L339.0,644.5L338.5,647.5L338.0,650.5L337.5,653.4L337.0,656.4L336.5,659.4L336.0,662.3L335.5,665.3L335.1,668.2L334.6,671.2L334.2,674.2L333.7,677.1L333.3,680.1L332.9,683.0L332.5,686.0L332.0,688.9L331.6,691.9L331.2,694.8L330.9,697.8L330.5,700.7L330.1,703.7L329.8,706.6L329.4,709.6L329.1,712.5L328.7,715.5L328.4,718.5L328.1,721.4L327.8,724.4L327.5,727.3L327.2,730.3L326.9,733.3L326.6,736.2L326.3,739.2L326.1,742.2L325.8,745.1L325.6,748.1L325.4,751.1L325.1,754.1L324.9,757.1L324.7,760.0L324.5,763.0L324.3,766.0L324.1,769.0L323.9,772.0L323.8,775.0L323.6,778.0L323.5,781.0L323.3,784.0L323.2,787.0L323.1,790.1L322.9,793.1L322.8,796.1L322.7,799.1L322.6,802.1L322.5,805.1L322.4,808.2L322.3,811.2L322.2,814.2L322.2,817.2L322.1,820.2L322.0,823.2L322.0,826.3L321.9,829.3L321.8,832.3L321.8,835.3L321.8,838.3L321.7,841.3L321.7,844.3L321.7,847.4L321.6,850.4L321.6,853.4L321.6,856.4L321.6,859.4L321.5,862.4L321.5,865.4L321.5,868.4L321.5,871.3L321.5,874.3L321.5,877.3L321.5,880.3L321.5,883.3L321.5,886.2L321.5,889.2L321.5,892.1L321.5,895.1L321.5,898.1L321.5,901.0Z"/>
<path fill="#02a012" d="M312.3,814.0L312.3,811.0L312.3,808.0L312.3,805.0L312.2,802.0L312.3,798.9L312.3,795.9L312.3,792.9L312.3,789.9L312.3,786.9L312.4,783.9L312.4,780.9L312.5,777.9L312.5,774.9L312.6,771.9L312.6,768.9L312.7,765.9L312.8,762.9L312.9,759.9L313.0,757.0L313.1,754.0L313.2,751.0L313.3,748.0L313.4,745.0L313.6,742.0L313.7,739.0L313.9,736.0L314.0,733.0L314.2,730.1L314.4,727.1L314.5,724.1L314.7,721.1L314.9,718.1L315.1,715.1L315.3,712.2L315.6,709.2L315.8,706.2L316.0,703.2L316.3,700.2L316.5,697.3L316.8,694.3L317.0,691.3L317.3,688.3L317.6,685.4L317.9,682.4L318.2,679.4L318.5,676.4L318.8,673.5L319.2,670.5L319.5,667.5L319.9,664.5L320.2,661.6L320.6,658.6L321.0,655.6L321.3,652.6L321.7,649.7L322.1,646.7L322.5,643.7L323.0,640.7L323.4,637.8L323.8,634.8L324.3,631.8L324.7,628.9L325.2,625.9L325.7,622.9L326.2,620.0L326.7,617.0L327.2,614.0L327.8,611.1L328.3,608.1L328.9,605.1L329.4,602.2L330.0,599.2L330.6,596.3L331.3,593.3L331.9,590.4L332.5,587.5L333.2,584.5L333.9,581.6L334.6,578.7L335.3,575.8L336.1,572.9L336.8,569.9L337.6,567.0L338.4,564.2L339.2,561.3L340.0,558.4L340.9,555.5L341.8,552.6L342.7,549.8L343.6,546.9L344.6,544.1L345.5,541.2L346.5,538.4L347.5,535.6L348.6,532.8L349.6,530.0L350.7,527.2L351.8,524.4L353.0,521.6L354.1,518.8L355.3,516.1L356.5,513.3L357.8,510.6L359.0,507.9L360.3,505.2L361.7,502.5L363.0,499.8L364.4,497.1L365.8,494.4L367.3,491.8L368.8,489.2L370.4,486.7L372.1,484.3L373.8,481.9L375.6,479.5L377.5,477.3L379.5,475.2L381.6,473.2L383.8,471.2L386.1,469.4L388.4,467.6L390.8,465.9L393.3,464.3L395.8,462.8L398.4,461.4L401.1,460.0L403.8,458.7L406.6,457.5L409.4,456.4L412.2,455.3L415.1,454.3L417.9,453.2L420.8,452.2L423.7,451.2L426.6,450.2L429.4,449.2L432.3,448.2L435.2,447.2L438.0,446.2L440.9,445.2L443.7,444.2L446.6,443.2L449.4,442.2L452.2,441.2L455.1,440.1L457.9,439.1L460.7,438.1L463.5,437.0L466.3,436.0L469.1,434.9L471.9,433.8L474.7,432.8L477.5,431.7L480.3,430.6L483.0,429.5L485.8,428.4L488.6,427.3L491.3,426.2L494.1,425.0L496.9,423.9L499.6,422.8L502.4,421.6L505.1,420.4L507.9,419.3L510.6,418.1L513.4,416.9L516.1,415.7L518.9,414.5L521.6,413.3L524.3,412.1L527.1,410.9L529.8,409.6L532.5,408.4L535.3,407.2L538.0,405.9L540.7,404.7L543.5,403.5L546.2,402.2L548.9,401.0L551.7,399.8L554.4,398.6L557.2,397.3L559.9,396.1L562.6,394.9L565.4,393.7L568.1,392.4L570.9,391.2L573.6,390.0L576.4,388.8L579.1,387.7L581.9,386.5L584.6,385.3L587.4,384.1L590.2,383.0L593.0,381.8L595.7,380.7L598.5,379.6L601.3,378.5L604.1,377.4L606.9,376.3L609.7,375.2L612.5,374.1L615.3,373.1L618.1,372.0L620.9,371.0L623.7,370.0L626.5,369.0L629.4,368.0L632.2,367.0L635.0,366.0L637.9,365.1L640.7,364.1L643.6,363.2L646.4,362.2L649.2,361.3L652.1,360.4L655.0,359.5L657.8,358.6L660.7,357.7L663.5,356.8L666.4,356.0L669.3,355.1L672.2,354.2L675.0,353.4L677.9,352.6L680.8,351.7L683.7,350.9L686.6,350.1L689.5,349.3L692.3,348.5L695.2,347.7L698.1,346.9L701.0,346.1L703.9,345.4L706.8,344.6L709.7,343.9L712.6,343.1L715.5,342.4L718.5,341.6L721.4,340.9L724.3,340.1L727.2,339.4L730.1,338.7L733.0,338.0L735.9,337.3L738.8,336.5L741.7,335.8L744.7,335.1L747.6,334.4L750.5,333.7L753.4,333.0L756.3,332.3L759.2,331.6L762.1,330.9L765.1,330.2L768.0,329.5L770.9,328.8L773.8,328.1L776.7,327.3L779.6,326.6L782.5,325.9L785.5,325.2L788.4,324.5L791.3,323.7L794.2,323.0L797.1,322.3L800.0,321.5L802.9,320.8L805.8,320.1L808.7,319.3L811.6,318.5L814.5,317.8L817.4,317.0L820.3,316.2L823.2,315.4L826.0,314.6L828.9,313.8L831.8,313.0L834.7,312.2L837.6,311.4L840.4,310.5L843.3,309.7L846.2,308.8L849.0,308.0L851.9,307.1L854.8,306.2L857.6,305.3L860.5,304.4L863.3,303.4L866.2,302.5L869.0,301.6L871.9,300.6L874.7,299.6L877.5,298.7L880.4,297.7L883.2,296.7L886.0,295.7L888.8,294.7L891.7,293.7L894.5,292.7L897.3,291.6L900.1,290.6L902.9,289.6L905.7,288.5L908.5,287.4L911.3,286.4L914.1,285.3L916.9,284.2L919.7,283.1L922.5,282.1L925.3,281.0L928.1,279.9L930.9,278.7L933.7,277.6L936.5,276.5L939.2,275.4L942.0,274.3L944.8,273.1L947.6,272.0L950.4,270.9L953.1,269.7L955.9,268.6L958.7,267.4L961.4,266.3L964.2,265.1L967.0,264.0L969.7,262.8L972.5,261.6L975.3,260.5L978.0,259.3L980.8,258.1L983.6,257.0L986.3,255.8L989.1,254.6L991.8,253.5L994.6,252.3L997.4,251.1L1000.1,249.9L1002.9,248.8L1005.6,247.6L1008.4,246.4L1011.1,245.3L1013.9,244.1L1016.7,242.9L1019.4,241.7L1022.2,240.6L1024.9,239.4L1027.7,238.3L1030.5,237.1L1033.2,235.9L1036.0,234.8L1038.8,233.6L1041.5,232.5L1044.3,231.3L1047.1,230.2L1049.8,229.1L1052.6,227.9L1055.4,226.8L1058.2,225.7L1060.9,224.5L1063.7,223.4L1066.5,222.3L1069.3,221.2L1072.1,220.1L1074.8,219.0L1077.6,217.9L1080.4,216.8L1083.2,215.7L1086.0,214.6L1088.8,213.5L1091.6,212.4L1094.4,211.3L1097.2,210.2L1100.0,209.2L1102.8,208.1L1105.5,207.0L1108.3,205.9L1111.1,204.8L1113.9,203.8L1116.7,202.7L1119.5,201.6L1122.3,200.6L1125.1,199.5L1127.9,198.4L1130.8,197.4L1133.6,196.3L1136.4,195.3L1139.2,194.2L1142.0,193.1L1144.8,192.1L1147.6,191.0L1150.4,190.0L1153.2,188.9L1156.0,187.9L1158.8,186.8L1161.6,185.7L1164.4,184.7L1167.2,183.6L1170.0,182.6L1172.8,181.5L1175.7,180.4L1178.5,179.4L1181.3,178.3L1184.1,177.3L1186.9,176.2L1189.7,175.1L1192.5,174.0L1195.3,173.0L1198.1,171.9L1200.9,170.8L1203.7,169.7L1206.5,168.6L1209.2,167.5L1212.0,166.4L1214.8,165.3L1217.6,164.2L1220.4,163.1L1223.2,162.0L1225.9,160.8L1228.7,159.7L1231.5,158.6L1234.3,157.4L1237.0,156.3L1239.8,155.1L1242.5,153.9L1245.3,152.8L1248.1,151.6L1250.8,150.4L1253.6,149.2L1256.3,148.0L1259.0,146.8L1261.8,145.6L1264.5,144.3L1267.2,143.1L1270.0,141.9L1272.7,140.6L1275.4,139.4L1278.1,138.2L1280.8,136.9L1283.6,135.6L1286.3,134.4L1289.0,133.1L1291.7,131.9L1294.4,130.6L1297.2,129.3L1299.9,128.1L1302.6,126.8L1305.3,125.6L1308.0,124.3L1310.7,123.0L1313.4,121.8L1316.2,120.5L1318.9,119.3L1321.6,118.0L1324.3,116.7L1327.1,115.5L1329.8,114.3L1332.5,113.0L1335.3,111.8L1338.0,110.6L1340.7,109.3L1343.5,108.1L1346.2,106.9L1349.0,105.7L1351.7,104.5L1354.5,103.3L1357.2,102.2L1360.0,101.0L1362.8,99.8L1365.5,98.7L1368.3,97.5L1371.1,96.4L1373.9,95.3L1376.7,94.2L1379.5,93.1L1382.3,92.0L1385.1,90.9L1387.9,89.8L1390.7,88.7L1393.5,87.7L1396.3,86.6L1399.1,85.6L1402.0,84.6L1404.8,83.6L1407.6,82.6L1410.4,81.6L1413.3,80.6L1416.1,79.7L1419.0,78.7L1421.8,77.8L1424.7,76.9L1427.5,76.0L1430.4,75.1L1433.3,74.2L1436.1,73.3L1439.0,72.5L1441.9,71.6L1444.8,70.8L1447.6,70.0L1450.5,69.2L1453.4,68.4L1456.3,67.7L1459.2,66.9L1462.1,66.2L1465.0,65.5L1467.9,64.8L1470.8,64.1L1473.8,63.4L1476.7,62.8L1479.6,62.1L1482.5,61.5L1485.5,60.9L1488.4,60.4L1491.3,59.8L1494.3,59.3L1497.2,58.7L1500.2,58.2L1503.1,57.7L1506.1,57.3L1509.0,56.8L1512.0,56.4L1520.5,56.6L1522.0,58.0L1522.0,67.4L1512.0,68.4L1509.0,68.9L1506.1,69.4L1503.1,70.0L1500.1,70.6L1497.2,71.1L1494.3,71.8L1491.3,72.4L1488.4,73.1L1485.5,73.7L1482.6,74.4L1479.7,75.2L1476.7,75.9L1473.8,76.7L1471.0,77.4L1468.1,78.2L1465.2,79.0L1462.3,79.9L1459.4,80.7L1456.6,81.6L1453.7,82.5L1450.9,83.3L1448.0,84.3L1445.2,85.2L1442.3,86.1L1439.5,87.1L1436.7,88.1L1433.8,89.0L1431.0,90.0L1428.2,91.0L1425.4,92.1L1422.6,93.1L1419.8,94.1L1417.0,95.2L1414.2,96.3L1411.4,97.3L1408.6,98.4L1405.8,99.5L1403.0,100.6L1400.2,101.8L1397.4,102.9L1394.7,104.0L1391.9,105.2L1389.1,106.3L1386.4,107.5L1383.6,108.6L1380.8,109.8L1378.1,111.0L1375.3,112.2L1372.6,113.4L1369.8,114.6L1367.1,115.8L1364.3,117.0L1361.6,118.2L1358.8,119.4L1356.1,120.6L1353.3,121.8L1350.6,123.0L1347.8,124.2L1345.1,125.5L1342.4,126.7L1339.6,127.9L1336.9,129.1L1334.1,130.4L1331.4,131.6L1328.7,132.8L1325.9,134.0L1323.2,135.3L1320.5,136.5L1317.7,137.7L1315.0,138.9L1312.3,140.2L1309.5,141.4L1306.8,142.6L1304.1,143.8L1301.3,145.0L1298.6,146.3L1295.8,147.5L1293.1,148.7L1290.4,149.9L1287.6,151.1L1284.9,152.3L1282.1,153.5L1279.4,154.7L1276.6,155.9L1273.9,157.0L1271.1,158.2L1268.4,159.4L1265.6,160.5L1262.9,161.7L1260.1,162.9L1257.3,164.0L1254.6,165.2L1251.8,166.3L1249.0,167.4L1246.2,168.5L1243.5,169.7L1240.7,170.8L1237.9,171.9L1235.1,173.0L1232.3,174.1L1229.5,175.2L1226.7,176.2L1223.9,177.3L1221.1,178.4L1218.3,179.5L1215.5,180.5L1212.7,181.6L1209.9,182.7L1207.1,183.7L1204.3,184.8L1201.5,185.8L1198.7,186.9L1195.9,187.9L1193.1,189.0L1190.3,190.0L1187.5,191.1L1184.7,192.1L1181.9,193.2L1179.1,194.2L1176.2,195.3L1173.4,196.4L1170.6,197.4L1167.8,198.5L1165.0,199.5L1162.2,200.6L1159.4,201.6L1156.6,202.7L1153.8,203.8L1151.0,204.8L1148.2,205.9L1145.4,207.0L1142.6,208.1L1139.8,209.2L1137.0,210.2L1134.2,211.3L1131.4,212.4L1128.6,213.5L1125.9,214.6L1123.1,215.7L1120.3,216.8L1117.5,217.9L1114.7,219.1L1111.9,220.2L1109.2,221.3L1106.4,222.4L1103.6,223.5L1100.8,224.6L1098.0,225.8L1095.3,226.9L1092.5,228.0L1089.7,229.2L1086.9,230.3L1084.2,231.4L1081.4,232.6L1078.6,233.7L1075.9,234.8L1073.1,236.0L1070.3,237.1L1067.5,238.3L1064.8,239.4L1062.0,240.6L1059.2,241.7L1056.5,242.8L1053.7,244.0L1050.9,245.1L1048.2,246.3L1045.4,247.4L1042.6,248.6L1039.8,249.7L1037.1,250.9L1034.3,252.0L1031.5,253.2L1028.8,254.3L1026.0,255.5L1023.2,256.6L1020.5,257.7L1017.7,258.9L1014.9,260.0L1012.2,261.2L1009.4,262.3L1006.6,263.5L1003.8,264.6L1001.1,265.7L998.3,266.9L995.5,268.0L992.8,269.2L990.0,270.3L987.2,271.4L984.4,272.5L981.6,273.7L978.9,274.8L976.1,275.9L973.3,277.0L970.5,278.2L967.8,279.3L965.0,280.4L962.2,281.5L959.4,282.6L956.6,283.7L953.8,284.8L951.0,285.9L948.2,287.0L945.5,288.1L942.7,289.2L939.9,290.3L937.1,291.4L934.3,292.5L931.5,293.5L928.7,294.6L925.9,295.7L923.1,296.7L920.3,297.8L917.5,298.8L914.6,299.9L911.8,300.9L909.0,302.0L906.2,303.0L903.4,304.0L900.6,305.0L897.7,306.0L894.9,307.0L892.1,308.0L889.3,309.0L886.4,310.0L883.6,310.9L880.8,311.9L877.9,312.9L875.1,313.8L872.2,314.7L869.4,315.6L866.5,316.6L863.7,317.5L860.8,318.4L857.9,319.2L855.1,320.1L852.2,321.0L849.3,321.8L846.5,322.7L843.6,323.5L840.7,324.3L837.8,325.1L834.9,325.9L832.1,326.7L829.2,327.5L826.3,328.3L823.4,329.1L820.5,329.8L817.6,330.6L814.7,331.3L811.8,332.1L808.9,332.8L805.9,333.5L803.0,334.3L800.1,335.0L797.2,335.7L794.3,336.4L791.4,337.1L788.5,337.8L785.6,338.5L782.6,339.2L779.7,339.9L776.8,340.6L773.9,341.3L771.0,342.0L768.1,342.7L765.1,343.4L762.2,344.1L759.3,344.8L756.4,345.6L753.5,346.3L750.6,347.0L747.6,347.7L744.7,348.4L741.8,349.1L738.9,349.8L736.0,350.6L733.1,351.3L730.2,352.0L727.3,352.8L724.4,353.5L721.5,354.3L718.6,355.1L715.7,355.8L712.8,356.6L709.9,357.4L707.0,358.2L704.1,359.0L701.3,359.8L698.4,360.7L695.5,361.5L692.6,362.3L689.8,363.2L686.9,364.1L684.0,364.9L681.2,365.8L678.3,366.7L675.5,367.6L672.6,368.5L669.8,369.5L666.9,370.4L664.1,371.4L661.2,372.3L658.4,373.3L655.6,374.3L652.7,375.2L649.9,376.2L647.1,377.2L644.3,378.3L641.5,379.3L638.6,380.3L635.8,381.4L633.0,382.4L630.2,383.5L627.4,384.5L624.6,385.6L621.9,386.7L619.1,387.8L616.3,388.9L613.5,390.1L610.7,391.2L608.0,392.3L605.2,393.5L602.4,394.6L599.7,395.8L596.9,397.0L594.1,398.2L591.4,399.4L588.7,400.6L585.9,401.8L583.2,403.0L580.4,404.2L577.7,405.4L574.9,406.6L572.2,407.9L569.5,409.1L566.7,410.3L564.0,411.6L561.3,412.8L558.5,414.0L555.8,415.3L553.1,416.5L550.3,417.7L547.6,419.0L544.9,420.2L542.1,421.4L539.4,422.6L536.6,423.8L533.9,425.1L531.2,426.3L528.4,427.4L525.7,428.6L522.9,429.8L520.1,431.0L517.4,432.1L514.6,433.3L511.8,434.4L509.1,435.5L506.3,436.6L503.5,437.7L500.7,438.8L497.9,439.9L495.1,440.9L492.3,442.0L489.5,443.0L486.7,444.0L483.9,445.0L481.0,446.0L478.2,447.0L475.4,448.0L472.6,449.0L469.7,450.0L466.9,451.0L464.1,452.0L461.3,453.0L458.4,454.0L455.6,455.1L452.8,456.1L450.0,457.1L447.2,458.2L444.3,459.3L441.5,460.3L438.7,461.4L435.9,462.5L433.2,463.7L430.4,464.8L427.6,466.0L424.8,467.2L422.1,468.4L419.3,469.7L416.6,471.0L413.9,472.4L411.2,473.8L408.6,475.2L406.0,476.7L403.5,478.3L401.1,480.0L398.7,481.8L396.4,483.7L394.2,485.6L392.0,487.6L389.9,489.7L387.9,491.9L385.9,494.1L384.0,496.4L382.2,498.8L380.4,501.2L378.7,503.6L377.0,506.1L375.4,508.6L373.9,511.2L372.3,513.8L370.9,516.4L369.5,519.0L368.1,521.7L366.8,524.4L365.5,527.1L364.3,529.8L363.1,532.6L361.9,535.4L360.8,538.2L359.7,541.0L358.6,543.8L357.5,546.6L356.5,549.5L355.5,552.3L354.5,555.2L353.5,558.0L352.5,560.9L351.6,563.7L350.6,566.6L349.7,569.4L348.8,572.3L347.9,575.2L347.0,578.0L346.1,580.9L345.3,583.8L344.4,586.7L343.6,589.5L342.8,592.4L342.0,595.3L341.2,598.2L340.4,601.1L339.7,604.0L339.0,606.9L338.2,609.8L337.5,612.7L336.9,615.6L336.2,618.5L335.5,621.4L334.9,624.3L334.3,627.2L333.7,630.1L333.1,633.1L332.6,636.0L332.1,638.9L331.5,641.9L331.1,644.8L330.6,647.8L330.1,650.7L329.7,653.7L329.3,656.6L328.9,659.6L328.5,662.6L328.1,665.5L327.7,668.5L327.4,671.5L327.1,674.5L326.8,677.4L326.5,680.4L326.2,683.4L325.9,686.4L325.7,689.4L325.4,692.4L325.2,695.4L325.0,698.4L324.8,701.4L324.6,704.4L324.4,707.4L324.2,710.4L324.0,713.4L323.9,716.4L323.7,719.4L323.6,722.4L323.4,725.4L323.3,728.4L323.2,731.4L323.0,734.4L322.9,737.4L322.8,740.4L322.7,743.4L322.6,746.4L322.5,749.5L322.4,752.5L322.3,755.5L322.2,758.5L322.1,761.5L322.0,764.5L322.0,767.5L321.9,770.4L321.8,773.4L321.7,776.4L321.6,779.4L321.5,782.4L321.4,785.4L321.3,788.4L321.2,791.4L321.1,794.3L321.0,797.3L313.6,797.3L313.6,814.0Z"/>
<path fill="#0175b6" d="M311.7,69.1L312.6,72.4L313.7,75.7L315.1,78.8L316.7,81.8L318.5,84.7L320.6,87.4L322.8,89.9L325.1,92.3L327.6,94.5L330.1,96.6L332.7,98.6L337.3,89.6L335.0,87.9L332.8,86.2L330.8,84.3L328.8,82.4L327.0,80.3L325.4,78.2L323.9,75.9L322.7,73.6L321.6,71.2L320.7,68.6L320.2,66.6ZM339.9,103.3L342.7,104.9L345.4,106.4L348.2,107.8L351.1,109.2L353.9,110.6L356.7,111.9L359.6,113.1L362.5,114.3L365.3,115.5L368.2,116.6L371.1,117.7L373.3,107.4L370.5,106.3L367.7,105.2L365.0,104.1L362.2,103.0L359.5,101.8L356.8,100.6L354.1,99.3L351.5,98.0L348.9,96.7L346.3,95.3L343.8,93.8ZM378.9,120.6L381.8,121.6L384.8,122.6L387.7,123.5L390.7,124.5L393.7,125.4L396.7,126.2L399.7,127.1L402.7,127.9L405.7,128.6L408.7,129.4L411.7,130.0L412.5,119.4L409.6,118.7L406.7,118.0L403.8,117.3L400.9,116.5L398.0,115.7L395.2,114.8L392.3,113.9L389.4,113.0L386.6,112.1L383.8,111.1L380.9,110.2ZM419.8,131.7L422.9,132.3L425.9,132.9L429.0,133.4L432.0,133.9L435.0,134.4L438.1,134.9L441.1,135.4L444.1,135.8L447.2,136.3L450.2,136.7L453.2,137.2L453.2,126.5L450.2,126.1L447.2,125.6L444.2,125.2L441.2,124.7L438.2,124.2L435.2,123.8L432.2,123.3L429.2,122.8L426.2,122.2L423.3,121.7L420.3,121.1ZM461.2,138.4L464.2,138.9L467.2,139.4L470.2,139.9L473.1,140.4L476.1,140.9L479.1,141.5L482.0,142.1L485.0,142.7L487.9,143.3L490.8,144.0L493.7,144.7L494.7,134.0L491.7,133.3L488.6,132.7L485.6,132.0L482.5,131.4L479.5,130.8L476.4,130.2L473.4,129.7L470.4,129.2L467.3,128.7L464.3,128.2L461.3,127.7ZM501.4,146.8L504.2,147.6L507.1,148.5L510.0,149.4L512.8,150.3L515.6,151.3L518.5,152.3L521.3,153.3L524.1,154.4L526.9,155.4L529.7,156.5L532.5,157.6L535.0,147.2L532.1,146.1L529.2,145.0L526.3,143.9L523.4,142.8L520.5,141.8L517.6,140.8L514.6,139.8L511.7,138.8L508.7,137.9L505.7,137.0L502.7,136.1ZM540.0,160.7L542.7,161.9L545.5,163.1L548.3,164.3L551.1,165.5L553.8,166.8L556.6,168.0L559.4,169.3L562.1,170.6L564.9,171.8L567.7,173.1L570.4,174.4L573.5,164.1L570.7,162.8L567.9,161.5L565.1,160.2L562.3,159.0L559.5,157.7L556.7,156.4L553.9,155.2L551.1,153.9L548.3,152.7L545.4,151.5L542.6,150.3ZM577.8,177.8L580.5,179.1L583.3,180.4L586.1,181.7L588.9,183.0L591.7,184.3L594.5,185.5L597.3,186.8L600.1,188.1L602.9,189.3L605.7,190.5L608.5,191.8L611.3,181.3L608.5,180.1L605.7,178.9L603.0,177.7L600.2,176.4L597.4,175.2L594.7,173.9L591.9,172.6L589.1,171.4L586.4,170.1L583.6,168.8L580.8,167.5ZM616.0,194.9L618.9,196.1L621.7,197.3L624.6,198.4L627.5,199.6L630.3,200.7L633.2,201.8L636.1,202.9L638.9,204.0L641.8,205.1L644.7,206.2L647.6,207.2L649.8,196.7L646.9,195.6L644.1,194.5L641.2,193.5L638.4,192.4L635.5,191.3L632.7,190.2L629.9,189.1L627.1,187.9L624.3,186.8L621.5,185.6L618.7,184.5ZM655.2,210.0L658.1,211.1L661.0,212.1L663.8,213.1L666.7,214.1L669.6,215.2L672.5,216.2L675.4,217.2L678.3,218.2L681.2,219.2L684.1,220.2L687.0,221.2L689.0,210.6L686.1,209.6L683.2,208.6L680.3,207.6L677.4,206.6L674.5,205.5L671.7,204.5L668.8,203.5L665.9,202.5L663.0,201.5L660.2,200.5L657.3,199.4ZM694.6,223.8L697.5,224.8L700.4,225.9L703.3,226.9L706.1,227.9L709.0,228.9L711.9,229.9L714.8,230.9L717.7,231.9L720.5,232.9L723.4,234.0L726.3,235.0L728.4,224.4L725.5,223.3L722.6,222.3L719.7,221.3L716.8,220.2L713.9,219.2L711.0,218.2L708.2,217.2L705.3,216.2L702.4,215.2L699.5,214.2L696.6,213.2ZM733.8,237.8L736.7,238.8L739.5,239.9L742.3,241.0L745.2,242.0L748.0,243.1L750.9,244.2L753.7,245.4L756.5,246.5L759.3,247.6L762.1,248.8L764.9,249.9L767.6,239.4L764.7,238.2L761.9,237.0L759.0,235.9L756.1,234.8L753.3,233.6L750.4,232.5L747.5,231.4L744.6,230.3L741.8,229.3L738.9,228.2L736.0,227.1ZM772.3,253.0L775.1,254.3L777.9,255.5L780.6,256.7L783.4,257.9L786.2,259.2L789.0,260.5L791.7,261.7L794.5,263.0L797.2,264.3L800.0,265.6L802.8,266.9L805.9,256.4L803.1,255.1L800.3,253.8L797.5,252.5L794.7,251.3L791.9,250.0L789.1,248.7L786.3,247.5L783.5,246.2L780.7,245.0L777.9,243.7L775.0,242.5ZM810.0,270.3L812.8,271.6L815.5,273.0L818.3,274.3L821.0,275.6L823.7,277.0L826.5,278.3L829.2,279.6L832.0,281.0L834.7,282.3L837.5,283.7L840.2,285.0L843.5,274.6L840.8,273.2L838.0,271.9L835.3,270.6L832.5,269.2L829.8,267.9L827.0,266.5L824.3,265.2L821.5,263.9L818.7,262.5L816.0,261.2L813.2,259.9ZM847.5,288.5L850.2,289.9L853.0,291.2L855.8,292.6L858.5,293.9L861.3,295.2L864.1,296.5L866.8,297.9L869.6,299.2L872.4,300.5L875.2,301.8L878.0,303.1L881.1,292.6L878.3,291.3L875.5,290.0L872.8,288.7L870.0,287.4L867.3,286.1L864.5,284.7L861.8,283.4L859.0,282.1L856.2,280.8L853.5,279.4L850.7,278.1ZM885.3,306.4L888.1,307.7L890.9,309.0L893.7,310.2L896.5,311.5L899.4,312.7L902.2,313.9L905.0,315.1L907.8,316.4L910.7,317.6L913.5,318.8L916.3,320.0L919.0,309.3L916.2,308.1L913.4,306.9L910.6,305.7L907.8,304.5L905.0,303.3L902.2,302.1L899.4,300.9L896.6,299.6L893.9,298.4L891.1,297.1L888.3,295.9ZM923.8,323.0L926.6,324.2L929.5,325.4L932.3,326.5L935.2,327.7L938.0,328.8L940.9,329.9L943.8,331.1L946.6,332.2L949.5,333.3L952.4,334.4L955.2,335.5L957.6,324.7L954.7,323.6L951.9,322.5L949.0,321.4L946.2,320.3L943.4,319.2L940.5,318.1L937.7,317.0L934.9,315.8L932.0,314.7L929.2,313.5L926.4,312.4ZM962.7,338.3L965.6,339.4L968.5,340.5L971.4,341.5L974.3,342.6L977.2,343.6L980.1,344.7L983.0,345.7L985.9,346.8L988.8,347.8L991.7,348.8L994.6,349.8L996.6,339.0L993.7,338.0L990.9,336.9L988.0,335.9L985.1,334.9L982.2,333.9L979.4,332.8L976.5,331.8L973.6,330.7L970.8,329.7L967.9,328.6L965.0,327.6ZM1002.2,352.4L1005.1,353.4L1008.0,354.4L1010.9,355.4L1013.8,356.4L1016.7,357.3L1019.7,358.3L1022.6,359.3L1025.5,360.2L1028.4,361.2L1031.4,362.1L1034.3,363.0L1036.1,352.1L1033.1,351.2L1030.2,350.2L1027.3,349.3L1024.4,348.3L1021.5,347.4L1018.6,346.4L1015.7,345.5L1012.8,344.5L1009.9,343.5L1007.0,342.5L1004.1,341.6ZM1041.9,365.5L1044.9,366.4L1047.8,367.3L1050.7,368.2L1053.7,369.1L1056.6,370.0L1059.6,370.9L1062.5,371.8L1065.4,372.7L1068.4,373.5L1071.3,374.4L1074.3,375.3L1075.8,364.3L1072.9,363.4L1069.9,362.6L1067.0,361.7L1064.1,360.8L1061.2,359.9L1058.2,359.0L1055.3,358.1L1052.4,357.2L1049.5,356.3L1046.6,355.4L1043.6,354.5ZM1082.0,377.5L1084.9,378.4L1087.9,379.2L1090.8,380.1L1093.8,380.9L1096.7,381.8L1099.7,382.6L1102.6,383.4L1105.6,384.3L1108.6,385.1L1111.5,385.9L1114.5,386.7L1115.8,375.7L1112.9,374.9L1109.9,374.1L1107.0,373.2L1104.0,372.4L1101.1,371.6L1098.1,370.8L1095.2,369.9L1092.3,369.1L1089.3,368.2L1086.4,367.4L1083.4,366.5ZM1122.2,388.8L1125.2,389.7L1128.1,390.5L1131.1,391.3L1134.0,392.1L1137.0,392.9L1140.0,393.7L1142.9,394.5L1145.9,395.3L1148.8,396.1L1151.8,396.9L1154.7,397.7L1156.1,386.6L1153.1,385.8L1150.1,385.0L1147.2,384.2L1144.2,383.4L1141.2,382.6L1138.3,381.8L1135.3,381.0L1132.4,380.2L1129.4,379.4L1126.4,378.6L1123.5,377.8ZM1162.4,399.9L1165.3,400.7L1168.3,401.5L1171.2,402.4L1174.1,403.2L1177.1,404.1L1180.0,404.9L1182.9,405.8L1185.9,406.7L1188.8,407.5L1191.7,408.4L1194.6,409.3L1196.3,398.2L1193.4,397.2L1190.4,396.4L1187.5,395.5L1184.5,394.6L1181.5,393.7L1178.6,392.9L1175.6,392.0L1172.7,391.2L1169.7,390.3L1166.7,389.5L1163.8,388.7ZM1202.1,411.7L1205.0,412.7L1207.9,413.6L1210.8,414.6L1213.7,415.6L1216.5,416.6L1219.4,417.6L1222.3,418.6L1225.1,419.7L1228.0,420.7L1230.8,421.8L1233.6,422.9L1236.1,411.8L1233.2,410.7L1230.3,409.6L1227.4,408.5L1224.5,407.5L1221.6,406.4L1218.6,405.4L1215.7,404.4L1212.8,403.4L1209.8,402.5L1206.9,401.5L1204.0,400.5ZM1240.9,425.8L1243.7,427.0L1246.5,428.1L1249.3,429.3L1252.1,430.6L1254.8,431.8L1257.6,433.0L1260.3,434.3L1263.1,435.6L1265.8,436.9L1268.5,438.3L1271.2,439.7L1274.8,428.7L1272.0,427.3L1269.2,426.0L1266.4,424.6L1263.6,423.3L1260.8,422.0L1257.9,420.7L1255.1,419.5L1252.2,418.3L1249.4,417.0L1246.5,415.9L1243.6,414.7ZM1278.1,443.3L1280.8,444.7L1283.5,446.2L1286.2,447.7L1288.8,449.1L1291.5,450.6L1294.2,452.1L1296.9,453.6L1299.6,455.1L1302.4,456.6L1305.1,458.0L1307.8,459.5L1311.7,448.5L1309.0,447.1L1306.3,445.6L1303.6,444.2L1300.9,442.7L1298.2,441.2L1295.6,439.8L1292.9,438.3L1290.2,436.8L1287.4,435.3L1284.7,433.9L1282.0,432.4ZM1315.0,463.2L1317.8,464.6L1320.6,465.9L1323.5,467.3L1326.3,468.6L1329.2,469.8L1332.1,471.1L1335.1,472.2L1338.1,473.4L1341.1,474.4L1344.1,475.5L1347.1,476.4L1348.9,464.5L1346.1,463.6L1343.3,462.7L1340.5,461.7L1337.7,460.6L1335.0,459.5L1332.2,458.4L1329.5,457.2L1326.7,456.0L1324.0,454.7L1321.3,453.4L1318.6,452.1ZM1354.9,478.7L1358.0,479.4L1361.0,480.2L1364.0,481.0L1366.9,481.7L1369.9,482.5L1372.8,483.2L1375.7,484.0L1378.6,484.9L1381.4,485.7L1384.2,486.7L1386.9,487.6L1389.3,475.5L1386.3,474.5L1383.2,473.5L1380.2,472.6L1377.1,471.8L1374.1,471.0L1371.1,470.3L1368.1,469.6L1365.1,468.8L1362.1,468.1L1359.2,467.4L1356.3,466.6ZM1393.8,490.6L1396.4,491.8L1399.0,493.2L1401.5,494.6L1404.0,496.1L1406.5,497.6L1408.9,499.3L1411.3,501.0L1413.6,502.8L1415.9,504.6L1418.2,506.5L1420.4,508.4L1427.3,497.2L1424.8,495.2L1422.2,493.3L1419.6,491.4L1417.0,489.5L1414.3,487.8L1411.5,486.0L1408.7,484.4L1405.9,482.8L1403.0,481.3L1400.1,479.9L1397.1,478.5ZM1426.0,513.6L1428.1,515.7L1430.2,517.8L1432.3,520.0L1434.3,522.2L1436.3,524.5L1438.3,526.8L1440.3,529.1L1442.2,531.4L1444.1,533.8L1446.0,536.2L1447.9,538.6L1457.4,528.0L1455.4,525.6L1453.3,523.1L1451.3,520.8L1449.1,518.4L1447.0,516.0L1444.8,513.7L1442.6,511.4L1440.4,509.1L1438.1,506.9L1435.7,504.6L1433.4,502.5ZM1452.5,544.5L1454.4,547.0L1456.2,549.5L1458.1,552.0L1459.9,554.5L1461.8,557.1L1463.6,559.6L1465.5,562.1L1467.3,564.7L1469.2,567.2L1471.0,569.8L1472.9,572.3L1483.1,561.4L1481.3,558.9L1479.4,556.4L1477.5,553.9L1475.6,551.4L1473.7,548.9L1471.8,546.4L1469.9,543.9L1468.0,541.3L1466.1,538.8L1464.1,536.3L1462.2,533.8ZM1477.2,578.2L1479.1,580.8L1481.0,583.4L1482.9,585.9L1484.8,588.5L1486.7,591.0L1488.6,593.6L1490.5,596.1L1492.4,598.6L1494.3,601.2L1496.2,603.7L1498.1,606.3L1508.6,594.5L1506.7,592.0L1504.7,589.5L1502.8,587.0L1500.8,584.5L1498.9,582.0L1497.0,579.5L1495.1,577.0L1493.1,574.5L1491.2,572.0L1489.3,569.5L1487.4,567.0ZM1502.2,611.8L1504.1,614.4L1506.0,616.9L1507.9,619.5L1509.7,622.1L1511.6,624.6L1513.5,627.2L1515.3,629.8L1517.2,632.4L1519.0,635.0L1520.8,637.5L1522.6,640.1L1534.1,627.9L1532.2,625.3L1530.2,622.7L1528.3,620.2L1526.4,617.6L1524.5,615.1L1522.5,612.5L1520.6,610.0L1518.6,607.5L1516.7,604.9L1514.7,602.4L1512.8,599.9ZM1526.4,645.6L1528.2,648.2L1529.9,650.8L1531.7,653.4L1533.4,656.1L1535.2,658.7L1536.9,661.4L1538.6,664.0L1540.2,666.7L1541.9,669.4L1543.5,672.1L1545.2,674.8L1558.2,662.6L1556.4,659.9L1554.6,657.2L1552.8,654.5L1551.0,651.8L1549.2,649.1L1547.4,646.5L1545.5,643.8L1543.7,641.1L1541.8,638.5L1539.9,635.9L1538.0,633.3ZM1548.4,680.3L1550.0,683.0L1551.5,685.8L1553.1,688.6L1554.6,691.3L1556.1,694.1L1557.5,696.9L1559.0,699.7L1560.4,702.5L1561.8,705.3L1563.2,708.2L1564.6,711.0L1579.5,699.5L1577.9,696.6L1576.4,693.7L1574.9,690.8L1573.3,688.0L1571.7,685.1L1570.1,682.3L1568.4,679.4L1566.8,676.6L1565.1,673.8L1563.4,671.0L1561.7,668.2ZM1567.3,716.7L1568.6,719.5L1569.9,722.4L1571.1,725.3L1572.4,728.2L1573.6,731.2L1574.8,734.1L1576.0,737.0L1577.2,740.0L1578.3,742.9L1579.5,745.9L1580.6,748.8L1597.3,738.2L1596.1,735.1L1594.8,732.1L1593.5,729.1L1592.2,726.1L1590.9,723.1L1589.5,720.1L1588.1,717.1L1586.7,714.1L1585.3,711.1L1583.9,708.2L1582.4,705.2ZM1582.6,754.5L1583.7,757.5L1584.7,760.5L1585.7,763.5L1586.6,766.6L1587.6,769.6L1588.5,772.6L1589.4,775.7L1590.3,778.7L1591.1,781.7L1591.9,784.8L1592.7,787.9L1611.4,778.5L1610.4,775.3L1609.5,772.1L1608.5,769.0L1607.5,765.8L1606.4,762.7L1605.3,759.6L1604.2,756.4L1603.1,753.3L1602.0,750.2L1600.8,747.1L1599.6,744.1ZM1594.2,793.6L1594.9,796.7L1595.6,799.8L1596.3,802.9L1597.0,806.0L1597.6,809.1L1598.3,812.2L1598.9,815.3L1599.4,818.5L1600.0,821.6L1600.5,824.7L1601.1,827.9L1621.5,819.8L1620.8,816.6L1620.1,813.3L1619.4,810.1L1618.7,806.9L1618.0,803.7L1617.2,800.5L1616.5,797.2L1615.7,794.0L1614.8,790.8L1614.0,787.6L1613.1,784.5ZM1602.0,833.5L1602.5,836.6L1603.0,839.6L1603.4,842.7L1603.8,845.7L1604.3,848.8L1604.7,851.9L1605.0,854.9L1605.4,858.0L1605.8,861.1L1606.1,864.2L1606.5,867.3L1627.9,860.8L1627.5,857.6L1627.1,854.5L1626.7,851.3L1626.2,848.2L1625.8,845.0L1625.3,841.9L1624.8,838.7L1624.3,835.6L1623.8,832.4L1623.2,829.3L1622.7,826.1ZM1621.2,866.5L1621.6,869.6L1621.9,872.7L1622.3,875.8L1622.6,878.9L1622.9,882.0L1623.2,885.1L1623.5,888.2L1623.8,891.3L1624.1,894.4L1624.4,897.5L1631.8,896.1L1631.5,893.0L1631.2,889.9L1630.9,886.7L1630.6,883.6L1630.2,880.5L1629.9,877.4L1629.6,874.3L1629.2,871.2L1628.8,868.1L1628.5,865.0ZM1613.8,868.2L1614.1,871.3L1614.5,874.5L1614.8,877.7L1615.1,880.9L1615.4,884.2L1615.7,887.4L1616.0,890.6L1616.3,893.8L1616.6,897.0L1616.8,900.2L1617.1,903.4L1617.3,906.6L1625.3,905.2L1625.0,901.9L1624.7,898.7L1624.4,895.5L1624.1,892.3L1623.8,889.0L1623.5,885.8L1623.2,882.6L1622.9,879.4L1622.5,876.2L1622.2,872.9L1621.8,869.7L1621.5,866.5ZM1607.5,877.3L1607.8,880.3L1608.1,883.4L1608.4,886.5L1608.6,889.5L1608.9,892.6L1609.2,895.6L1609.4,898.7L1609.6,901.8L1609.9,904.9L1610.1,907.9L1617.6,906.6L1617.3,903.5L1617.1,900.4L1616.8,897.3L1616.6,894.2L1616.3,891.2L1616.0,888.1L1615.7,885.0L1615.4,881.9L1615.1,878.9L1614.8,875.8ZM1625.3,908.2L1625.5,911.3L1625.8,914.3L1626.0,917.4L1626.3,920.5L1626.5,923.6L1626.7,926.7L1626.9,929.8L1627.2,932.9L1627.4,936.0L1627.6,939.1L1635.2,937.8L1635.0,934.7L1634.8,931.6L1634.5,928.5L1634.3,925.4L1634.1,922.3L1633.8,919.2L1633.5,916.1L1633.3,913.0L1633.0,909.9L1632.8,906.8ZM1617.6,909.5L1617.8,912.8L1618.1,916.0L1618.3,919.2L1618.5,922.4L1618.7,925.6L1619.0,928.8L1619.2,932.1L1619.4,935.3L1619.6,938.5L1619.9,941.7L1620.1,944.9L1620.3,948.2L1628.4,946.8L1628.1,943.6L1627.9,940.4L1627.7,937.1L1627.5,933.9L1627.2,930.7L1627.0,927.5L1626.8,924.2L1626.5,921.0L1626.3,917.8L1626.0,914.6L1625.8,911.3L1625.5,908.1ZM1610.8,918.6L1611.0,921.6L1611.2,924.7L1611.5,927.8L1611.7,930.9L1611.9,934.0L1612.1,937.1L1612.3,940.2L1612.5,943.2L1612.7,946.3L1612.9,949.4L1620.5,948.1L1620.3,945.0L1620.1,941.9L1619.9,938.9L1619.7,935.8L1619.5,932.7L1619.2,929.6L1619.0,926.5L1618.8,923.4L1618.6,920.3L1618.4,917.2ZM1628.3,949.8L1628.6,952.9L1628.8,956.0L1629.0,959.0L1629.2,962.1L1629.4,965.2L1629.7,968.3L1629.9,971.4L1630.1,974.5L1630.4,977.6L1630.6,980.7L1638.2,979.3L1637.9,976.2L1637.7,973.1L1637.5,970.1L1637.2,967.0L1637.0,963.9L1636.8,960.8L1636.6,957.7L1636.4,954.7L1636.2,951.6L1635.9,948.5ZM1620.5,951.1L1620.7,954.3L1621.0,957.6L1621.2,960.8L1621.4,964.0L1621.7,967.2L1621.9,970.5L1622.1,973.7L1622.4,976.9L1622.6,980.1L1622.9,983.4L1623.2,986.6L1623.4,989.8L1631.5,988.3L1631.2,985.1L1630.9,981.9L1630.7,978.7L1630.4,975.5L1630.2,972.3L1629.9,969.0L1629.7,965.8L1629.5,962.6L1629.2,959.4L1629.0,956.2L1628.8,953.0L1628.6,949.7ZM1613.7,960.1L1613.9,963.2L1614.1,966.3L1614.4,969.4L1614.6,972.5L1614.8,975.6L1615.1,978.7L1615.3,981.9L1615.6,985.0L1615.8,988.1L1616.1,991.2L1623.7,989.8L1623.4,986.7L1623.1,983.6L1622.9,980.5L1622.7,977.4L1622.4,974.3L1622.2,971.2L1622.0,968.1L1621.7,965.0L1621.5,961.9L1621.3,958.8ZM1631.5,991.3L1631.7,994.4L1632.0,997.5L1632.3,1000.5L1632.6,1003.6L1632.9,1006.7L1633.0,1007.9L1633.0,1007.9L1633.0,1007.9L1633.0,1007.9L1633.0,1007.9L1640.6,1007.2L1640.6,1007.2L1640.6,1007.2L1640.6,1007.2L1640.6,1007.2L1640.4,1005.2L1640.2,1002.1L1639.9,999.1L1639.6,996.0L1639.3,992.9L1639.0,989.9ZM1623.7,992.8L1624.0,996.0L1624.3,999.2L1624.5,1002.4L1624.9,1005.7L1625.2,1008.7L1625.2,1008.7L1625.2,1008.7L1625.2,1008.7L1625.2,1008.7L1625.2,1008.7L1625.2,1008.7L1625.2,1008.7L1633.2,1007.9L1633.2,1007.9L1633.2,1007.9L1633.2,1007.9L1633.2,1007.9L1633.2,1007.9L1633.2,1007.9L1633.2,1007.3L1632.9,1004.1L1632.6,1000.9L1632.3,997.7L1632.0,994.5L1631.7,991.3ZM1617.0,1001.9L1617.3,1005.1L1617.6,1008.2L1617.8,1009.4L1617.8,1009.4L1617.8,1009.4L1617.8,1009.4L1617.8,1009.4L1617.8,1009.4L1617.8,1009.4L1617.8,1009.4L1625.4,1008.7L1625.4,1008.7L1625.4,1008.7L1625.4,1008.7L1625.4,1008.7L1625.4,1008.7L1625.4,1008.7L1625.4,1008.7L1625.2,1006.7L1624.9,1003.6L1624.6,1000.5Z"/>
<path fill="#ff7f00" d="M310.9,93.5L311.3,97.0L312.0,100.4L313.1,103.9L314.6,107.2L316.4,110.3L318.6,113.1L321.0,115.8L323.6,118.1L326.3,120.2L329.0,122.1L331.9,123.8L336.1,112.5L333.8,111.1L331.6,109.7L329.6,108.2L327.8,106.5L326.1,104.7L324.7,102.8L323.5,100.8L322.5,98.6L321.7,96.3L321.2,93.8L321.0,91.9ZM340.2,127.8L343.1,129.0L346.0,130.2L348.9,131.3L351.8,132.3L354.7,133.3L357.7,134.3L360.6,135.2L363.5,136.1L366.5,136.9L369.5,137.8L372.4,138.6L373.7,126.0L370.9,125.2L368.1,124.5L365.2,123.7L362.4,122.9L359.7,122.0L356.9,121.1L354.1,120.1L351.4,119.2L348.7,118.1L346.0,117.1L343.4,116.0ZM381.0,140.6L384.0,141.3L387.0,142.0L390.0,142.6L392.9,143.3L395.9,143.9L398.9,144.5L401.9,145.0L404.8,145.6L407.8,146.2L410.8,146.8L413.7,147.3L414.2,134.5L411.3,134.0L408.3,133.4L405.4,132.8L402.4,132.3L399.5,131.7L396.6,131.1L393.6,130.5L390.7,129.9L387.8,129.3L384.9,128.7L382.0,128.0ZM422.1,149.0L425.1,149.5L428.0,150.1L431.0,150.7L433.9,151.3L436.8,151.9L439.8,152.5L442.7,153.1L445.6,153.8L448.5,154.4L451.4,155.1L454.3,155.7L455.3,142.7L452.4,142.1L449.4,141.4L446.4,140.8L443.4,140.2L440.5,139.6L437.5,139.0L434.5,138.4L431.6,137.8L428.6,137.2L425.6,136.7L422.6,136.1ZM462.5,157.8L465.4,158.5L468.3,159.3L471.1,160.0L474.0,160.9L476.8,161.7L479.6,162.5L482.5,163.4L485.3,164.3L488.1,165.3L490.8,166.2L493.6,167.2L496.2,154.2L493.3,153.2L490.3,152.2L487.4,151.3L484.5,150.4L481.5,149.5L478.6,148.6L475.6,147.8L472.7,147.0L469.7,146.2L466.7,145.5L463.8,144.7ZM501.4,170.2L504.2,171.3L506.9,172.4L509.7,173.6L512.4,174.7L515.2,175.9L517.9,177.1L520.7,178.3L523.4,179.5L526.2,180.7L529.0,181.9L531.7,183.1L535.2,170.1L532.5,168.9L529.7,167.7L526.9,166.5L524.1,165.3L521.3,164.1L518.5,162.9L515.7,161.8L512.9,160.6L510.1,159.5L507.2,158.3L504.4,157.2ZM539.6,186.5L542.3,187.7L545.1,188.9L547.9,190.1L550.7,191.3L553.4,192.5L556.2,193.7L559.0,194.9L561.8,196.1L564.5,197.3L567.3,198.5L570.1,199.7L573.5,186.5L570.7,185.3L568.0,184.1L565.2,182.9L562.4,181.8L559.6,180.6L556.9,179.4L554.1,178.2L551.3,177.1L548.6,175.9L545.8,174.7L543.0,173.5ZM578.0,203.0L580.7,204.2L583.5,205.4L586.3,206.6L589.1,207.7L591.9,208.9L594.7,210.1L597.4,211.3L600.2,212.4L603.0,213.6L605.8,214.8L608.6,215.9L612.0,202.5L609.2,201.3L606.4,200.2L603.6,199.0L600.8,197.9L598.0,196.7L595.3,195.6L592.5,194.4L589.7,193.2L586.9,192.1L584.1,190.9L581.3,189.8ZM616.4,219.2L619.2,220.4L622.0,221.6L624.8,222.7L627.6,223.9L630.4,225.1L633.2,226.2L636.0,227.4L638.7,228.5L641.5,229.7L644.3,230.9L647.1,232.0L650.5,218.4L647.7,217.2L644.9,216.1L642.1,214.9L639.3,213.8L636.5,212.6L633.8,211.5L631.0,210.3L628.2,209.2L625.4,208.0L622.6,206.9L619.8,205.7ZM654.9,235.3L657.7,236.4L660.5,237.6L663.3,238.8L666.1,239.9L668.9,241.1L671.7,242.2L674.5,243.4L677.3,244.6L680.1,245.7L682.9,246.9L685.6,248.0L689.1,234.2L686.3,233.0L683.5,231.9L680.7,230.8L677.9,229.6L675.1,228.5L672.3,227.3L669.5,226.2L666.7,225.0L663.9,223.9L661.1,222.7L658.3,221.6ZM693.5,251.3L696.3,252.5L699.1,253.6L701.8,254.8L704.6,255.9L707.4,257.1L710.2,258.3L713.0,259.4L715.8,260.6L718.6,261.8L721.4,262.9L724.2,264.1L727.7,250.0L724.9,248.9L722.1,247.7L719.3,246.6L716.5,245.4L713.7,244.3L710.9,243.1L708.1,242.0L705.3,240.8L702.5,239.7L699.7,238.6L696.9,237.4ZM732.0,267.3L734.8,268.4L737.6,269.6L740.4,270.8L743.2,271.9L746.0,273.1L748.8,274.2L751.5,275.4L754.3,276.5L757.1,277.7L759.9,278.9L762.7,280.0L766.2,266.0L763.4,264.8L760.6,263.7L757.8,262.5L755.0,261.4L752.2,260.2L749.4,259.0L746.7,257.9L743.9,256.7L741.1,255.6L738.3,254.4L735.5,253.3ZM770.5,283.2L773.3,284.4L776.1,285.6L778.9,286.7L781.7,287.9L784.5,289.0L787.3,290.2L790.1,291.4L792.9,292.5L795.6,293.7L798.4,294.9L801.2,296.0L804.7,282.0L802.0,280.8L799.2,279.7L796.4,278.5L793.6,277.3L790.8,276.2L788.0,275.0L785.2,273.9L782.4,272.7L779.6,271.5L776.8,270.4L774.0,269.2ZM809.0,299.3L811.8,300.4L814.6,301.6L817.4,302.8L820.2,303.9L823.0,305.1L825.7,306.3L828.5,307.4L831.3,308.6L834.1,309.8L836.9,310.9L839.7,312.1L843.3,298.1L840.5,296.9L837.7,295.7L834.9,294.6L832.1,293.4L829.3,292.2L826.5,291.1L823.7,289.9L820.9,288.7L818.1,287.6L815.3,286.4L812.5,285.2ZM847.4,315.4L850.2,316.5L853.0,317.7L855.8,318.9L858.6,320.0L861.4,321.2L864.2,322.4L867.0,323.6L869.8,324.7L872.6,325.9L875.3,327.1L878.1,328.3L881.7,314.3L878.9,313.1L876.1,311.9L873.3,310.7L870.6,309.6L867.8,308.4L865.0,307.2L862.2,306.0L859.4,304.9L856.6,303.7L853.8,302.5L851.0,301.3ZM885.8,331.6L888.6,332.7L891.4,333.9L894.2,335.1L897.0,336.3L899.8,337.5L902.6,338.6L905.4,339.8L908.2,341.0L911.0,342.2L913.8,343.3L916.6,344.5L920.1,330.5L917.3,329.3L914.5,328.1L911.8,327.0L909.0,325.8L906.2,324.6L903.4,323.4L900.6,322.3L897.8,321.1L895.0,319.9L892.2,318.7L889.4,317.5ZM924.4,347.7L927.2,348.9L930.0,350.0L932.8,351.2L935.6,352.3L938.4,353.5L941.3,354.6L944.1,355.7L946.9,356.8L949.8,358.0L952.6,359.1L955.4,360.2L958.6,346.1L955.8,345.0L953.0,343.9L950.2,342.8L947.4,341.6L944.6,340.5L941.8,339.4L939.0,338.3L936.2,337.1L933.4,336.0L930.6,334.8L927.8,333.7ZM963.3,363.2L966.1,364.3L969.0,365.4L971.9,366.4L974.7,367.5L977.6,368.5L980.5,369.6L983.3,370.6L986.2,371.6L989.1,372.6L992.0,373.6L994.9,374.6L997.5,360.4L994.7,359.4L991.8,358.4L989.0,357.4L986.1,356.4L983.3,355.4L980.5,354.4L977.7,353.3L974.8,352.3L972.0,351.2L969.2,350.2L966.4,349.1ZM1002.9,377.3L1005.8,378.3L1008.7,379.2L1011.6,380.2L1014.5,381.1L1017.4,382.0L1020.3,382.9L1023.2,383.8L1026.2,384.7L1029.1,385.6L1032.0,386.5L1034.9,387.3L1036.9,373.0L1034.1,372.1L1031.2,371.3L1028.3,370.4L1025.4,369.5L1022.5,368.6L1019.7,367.7L1016.8,366.8L1013.9,365.9L1011.0,365.0L1008.2,364.0L1005.3,363.1ZM1043.0,389.7L1045.9,390.5L1048.8,391.4L1051.8,392.2L1054.7,393.0L1057.6,393.8L1060.6,394.6L1063.5,395.4L1066.5,396.3L1069.4,397.1L1072.3,397.8L1075.3,398.6L1076.9,384.3L1074.0,383.5L1071.1,382.7L1068.2,381.9L1065.2,381.1L1062.3,380.3L1059.4,379.5L1056.5,378.7L1053.6,377.8L1050.7,377.0L1047.8,376.2L1044.9,375.3ZM1083.3,400.8L1086.3,401.6L1089.2,402.3L1092.2,403.1L1095.1,403.9L1098.0,404.6L1101.0,405.4L1103.9,406.2L1106.9,406.9L1109.8,407.7L1112.7,408.5L1115.7,409.2L1117.2,394.8L1114.2,394.1L1111.3,393.3L1108.4,392.6L1105.4,391.8L1102.5,391.0L1099.6,390.3L1096.6,389.5L1093.7,388.7L1090.8,388.0L1087.8,387.2L1084.9,386.4ZM1123.7,411.3L1126.6,412.1L1129.6,412.8L1132.5,413.6L1135.4,414.4L1138.3,415.2L1141.3,415.9L1144.2,416.7L1147.1,417.5L1150.0,418.3L1152.9,419.2L1155.8,420.0L1157.7,405.6L1154.7,404.8L1151.8,404.0L1148.8,403.2L1145.9,402.3L1142.9,401.6L1140.0,400.8L1137.0,400.0L1134.1,399.2L1131.1,398.4L1128.2,397.7L1125.2,396.9ZM1163.7,422.3L1166.5,423.2L1169.4,424.1L1172.3,425.0L1175.1,425.9L1178.0,426.8L1180.8,427.8L1183.6,428.7L1186.4,429.7L1189.3,430.7L1192.1,431.7L1194.9,432.8L1197.9,418.6L1195.0,417.5L1192.1,416.5L1189.2,415.4L1186.2,414.4L1183.3,413.5L1180.4,412.5L1177.5,411.6L1174.5,410.6L1171.6,409.7L1168.6,408.8L1165.7,407.9ZM1202.4,435.7L1205.2,436.9L1208.0,438.0L1210.8,439.2L1213.5,440.3L1216.3,441.5L1219.0,442.7L1221.8,444.0L1224.5,445.2L1227.3,446.4L1230.0,447.7L1232.8,448.9L1236.8,434.9L1234.0,433.7L1231.2,432.4L1228.4,431.2L1225.6,429.9L1222.8,428.7L1220.0,427.5L1217.2,426.3L1214.3,425.1L1211.5,423.9L1208.6,422.7L1205.8,421.6ZM1240.3,452.4L1243.0,453.6L1245.8,454.9L1248.5,456.2L1251.3,457.5L1254.1,458.8L1256.8,460.0L1259.6,461.3L1262.4,462.6L1265.2,463.9L1267.9,465.1L1270.7,466.4L1274.7,452.3L1271.9,451.1L1269.2,449.8L1266.4,448.6L1263.7,447.3L1260.9,446.0L1258.2,444.8L1255.4,443.5L1252.6,442.2L1249.9,440.9L1247.1,439.7L1244.4,438.4ZM1278.3,469.8L1281.2,471.0L1284.0,472.2L1286.8,473.4L1289.6,474.6L1292.4,475.8L1295.3,477.0L1298.1,478.1L1301.0,479.3L1303.8,480.4L1306.7,481.6L1309.5,482.7L1312.8,468.4L1310.0,467.3L1307.2,466.2L1304.4,465.1L1301.6,463.9L1298.8,462.8L1296.0,461.6L1293.2,460.4L1290.5,459.3L1287.7,458.1L1284.9,456.9L1282.2,455.7ZM1317.2,485.7L1320.1,486.8L1323.0,487.9L1325.8,488.9L1328.7,490.0L1331.6,491.1L1334.5,492.1L1337.4,493.1L1340.3,494.2L1343.2,495.2L1346.1,496.2L1349.0,497.2L1351.6,482.8L1348.8,481.8L1345.9,480.8L1343.1,479.8L1340.2,478.8L1337.4,477.7L1334.5,476.7L1331.7,475.7L1328.9,474.6L1326.0,473.6L1323.2,472.5L1320.4,471.4ZM1356.7,499.8L1359.5,500.8L1362.2,501.9L1365.0,502.9L1367.6,504.0L1370.2,505.2L1372.8,506.4L1375.3,507.7L1377.8,509.0L1380.3,510.4L1382.7,511.9L1385.2,513.5L1391.3,500.2L1388.5,498.5L1385.7,496.8L1382.9,495.3L1380.0,493.8L1377.1,492.4L1374.1,491.0L1371.2,489.8L1368.2,488.6L1365.3,487.5L1362.3,486.5L1359.4,485.4ZM1391.5,518.0L1393.8,519.8L1396.0,521.7L1398.3,523.6L1400.5,525.5L1402.6,527.5L1404.7,529.5L1406.8,531.6L1408.9,533.7L1410.9,535.9L1412.9,538.1L1414.9,540.3L1424.2,529.0L1422.1,526.6L1419.9,524.3L1417.7,522.0L1415.4,519.7L1413.1,517.5L1410.8,515.3L1408.4,513.2L1406.0,511.1L1403.5,509.0L1400.9,507.0L1398.4,505.1ZM1419.9,546.2L1421.7,548.6L1423.6,551.0L1425.4,553.4L1427.2,555.8L1429.0,558.3L1430.8,560.8L1432.5,563.3L1434.3,565.8L1436.0,568.3L1437.7,570.8L1439.4,573.4L1450.2,563.1L1448.5,560.5L1446.7,557.9L1444.9,555.3L1443.1,552.7L1441.2,550.2L1439.3,547.6L1437.4,545.1L1435.5,542.6L1433.5,540.0L1431.5,537.6L1429.5,535.1ZM1443.6,579.7L1445.3,582.4L1447.0,585.0L1448.7,587.6L1450.4,590.3L1452.2,592.9L1453.9,595.6L1455.6,598.2L1457.3,600.9L1459.1,603.5L1460.8,606.1L1462.5,608.8L1473.5,598.2L1471.7,595.6L1470.0,593.0L1468.2,590.3L1466.5,587.7L1464.8,585.1L1463.1,582.5L1461.4,579.9L1459.6,577.2L1457.9,574.6L1456.2,572.0L1454.4,569.3ZM1466.5,614.8L1468.3,617.5L1470.0,620.1L1471.7,622.8L1473.4,625.5L1475.2,628.2L1476.9,630.8L1478.6,633.5L1480.3,636.2L1482.0,638.9L1483.6,641.6L1485.3,644.3L1497.0,633.0L1495.2,630.4L1493.4,627.7L1491.6,625.1L1489.9,622.4L1488.1,619.8L1486.3,617.1L1484.5,614.5L1482.7,611.9L1480.9,609.2L1479.1,606.6L1477.3,604.0ZM1488.8,649.9L1490.4,652.6L1492.1,655.3L1493.7,658.1L1495.3,660.8L1496.9,663.5L1498.5,666.3L1500.0,669.0L1501.6,671.8L1503.1,674.5L1504.6,677.3L1506.1,680.1L1519.3,668.9L1517.7,666.1L1516.0,663.3L1514.4,660.5L1512.7,657.8L1511.0,655.0L1509.3,652.3L1507.6,649.5L1505.9,646.8L1504.1,644.1L1502.4,641.4L1500.7,638.7ZM1509.0,685.8L1510.4,688.6L1511.8,691.5L1513.2,694.3L1514.5,697.2L1515.8,700.1L1517.1,702.9L1518.4,705.8L1519.7,708.7L1520.9,711.6L1522.1,714.5L1523.3,717.5L1538.8,706.7L1537.4,703.8L1536.0,700.8L1534.6,697.9L1533.2,694.9L1531.7,692.0L1530.2,689.1L1528.7,686.2L1527.2,683.3L1525.7,680.4L1524.1,677.6L1522.5,674.7ZM1525.7,723.3L1526.8,726.2L1527.9,729.2L1529.1,732.2L1530.1,735.1L1531.2,738.1L1532.2,741.1L1533.3,744.1L1534.3,747.2L1535.3,750.2L1536.2,753.2L1537.2,756.2L1554.8,746.2L1553.7,743.1L1552.6,740.0L1551.5,736.9L1550.3,733.8L1549.1,730.8L1547.9,727.7L1546.6,724.7L1545.4,721.7L1544.1,718.6L1542.8,715.6L1541.5,712.6ZM1538.9,762.0L1539.8,765.1L1540.7,768.1L1541.6,771.2L1542.4,774.2L1543.2,777.3L1544.0,780.4L1544.8,783.5L1545.5,786.6L1546.3,789.6L1547.0,792.7L1547.7,795.8L1567.1,786.9L1566.3,783.7L1565.5,780.5L1564.6,777.3L1563.7,774.2L1562.8,771.0L1561.9,767.8L1560.9,764.7L1559.9,761.5L1559.0,758.4L1557.9,755.2L1556.9,752.1ZM1549.0,801.7L1549.6,804.8L1550.3,807.9L1550.9,811.0L1551.5,814.1L1552.0,817.3L1552.6,820.4L1553.1,823.5L1553.7,826.7L1554.2,829.8L1554.7,833.0L1555.1,836.1L1575.8,828.4L1575.2,825.2L1574.6,822.0L1574.0,818.7L1573.4,815.5L1572.8,812.3L1572.1,809.0L1571.5,805.8L1570.8,802.6L1570.1,799.4L1569.4,796.2L1568.6,792.9ZM1569.5,834.9L1570.0,838.2L1570.5,841.5L1571.0,844.7L1571.5,848.0L1571.9,851.3L1572.3,854.5L1572.7,857.8L1573.1,861.1L1573.5,864.3L1573.9,867.6L1581.0,865.8L1580.6,862.5L1580.2,859.2L1579.8,855.9L1579.4,852.6L1578.9,849.3L1578.5,846.0L1578.0,842.7L1577.5,839.4L1577.0,836.2L1576.5,832.9ZM1562.4,837.0L1562.8,840.1L1563.3,843.2L1563.7,846.3L1564.1,849.4L1564.5,852.5L1564.9,855.6L1565.3,858.7L1565.7,861.8L1566.1,864.9L1566.4,868.0L1566.7,871.1L1567.1,874.2L1574.7,872.4L1574.3,869.2L1574.0,866.1L1573.6,863.0L1573.2,859.8L1572.8,856.7L1572.4,853.6L1572.0,850.5L1571.6,847.3L1571.1,844.2L1570.7,841.1L1570.2,838.0L1569.7,834.9ZM1556.3,843.7L1556.7,846.9L1557.1,850.1L1557.6,853.3L1558.0,856.6L1558.3,859.8L1558.7,863.0L1559.1,866.2L1559.4,869.4L1559.8,872.7L1560.1,875.9L1567.3,874.2L1566.9,870.9L1566.6,867.7L1566.2,864.4L1565.8,861.2L1565.4,857.9L1565.0,854.7L1564.6,851.4L1564.2,848.2L1563.7,845.0L1563.3,841.7ZM1574.8,875.3L1575.1,878.5L1575.4,881.6L1575.7,884.7L1576.0,887.9L1576.3,891.0L1576.6,894.1L1576.9,897.3L1577.2,900.4L1577.4,903.6L1577.7,906.7L1585.0,905.3L1584.7,902.2L1584.5,899.0L1584.2,895.9L1583.9,892.8L1583.6,889.6L1583.3,886.5L1583.0,883.3L1582.6,880.1L1582.3,877.0L1582.0,873.8ZM1567.4,876.9L1567.7,880.1L1568.0,883.3L1568.3,886.5L1568.6,889.7L1568.9,892.9L1569.2,896.1L1569.4,899.3L1569.7,902.5L1570.0,905.7L1570.2,908.9L1570.5,912.1L1570.7,915.3L1578.5,913.9L1578.3,910.7L1578.0,907.5L1577.7,904.3L1577.4,901.1L1577.2,897.8L1576.9,894.6L1576.6,891.4L1576.3,888.2L1576.0,885.0L1575.7,881.7L1575.3,878.5L1575.0,875.3ZM1561.1,885.5L1561.4,888.6L1561.6,891.7L1561.9,894.8L1562.2,897.9L1562.4,901.0L1562.7,904.1L1562.9,907.3L1563.2,910.4L1563.4,913.5L1563.6,916.6L1571.0,915.3L1570.7,912.2L1570.5,909.0L1570.2,905.9L1570.0,902.8L1569.7,899.7L1569.4,896.5L1569.2,893.4L1568.9,890.3L1568.6,887.2L1568.3,884.1ZM1578.5,917.0L1578.8,920.1L1579.0,923.2L1579.2,926.4L1579.5,929.5L1579.7,932.6L1579.9,935.8L1580.2,938.9L1580.4,942.0L1580.6,945.2L1580.8,948.3L1588.3,947.0L1588.0,943.9L1587.8,940.8L1587.6,937.6L1587.3,934.5L1587.1,931.4L1586.9,928.2L1586.6,925.1L1586.4,921.9L1586.1,918.8L1585.9,915.7ZM1571.0,918.3L1571.2,921.5L1571.4,924.7L1571.7,928.0L1571.9,931.2L1572.1,934.4L1572.3,937.6L1572.6,940.8L1572.8,944.0L1573.0,947.2L1573.2,950.5L1573.5,953.7L1573.7,956.9L1581.6,955.5L1581.3,952.3L1581.1,949.1L1580.9,945.9L1580.7,942.7L1580.4,939.5L1580.2,936.2L1580.0,933.0L1579.7,929.8L1579.5,926.6L1579.2,923.4L1579.0,920.2L1578.7,916.9ZM1564.3,926.8L1564.6,930.0L1564.8,933.1L1565.0,936.2L1565.2,939.3L1565.4,942.5L1565.6,945.6L1565.8,948.7L1566.0,951.9L1566.2,955.0L1566.4,958.1L1573.9,956.9L1573.7,953.7L1573.5,950.6L1573.3,947.5L1573.0,944.3L1572.8,941.2L1572.6,938.1L1572.4,934.9L1572.2,931.8L1571.9,928.7L1571.7,925.5ZM1581.6,958.6L1581.8,961.7L1582.0,964.8L1582.2,968.0L1582.5,971.1L1582.7,974.2L1583.0,977.3L1583.2,980.5L1583.4,983.6L1583.7,986.7L1583.9,989.8L1591.5,988.5L1591.2,985.4L1591.0,982.3L1590.7,979.1L1590.5,976.0L1590.2,972.9L1590.0,969.8L1589.7,966.7L1589.5,963.5L1589.3,960.4L1589.0,957.3ZM1573.9,959.9L1574.1,963.1L1574.3,966.3L1574.6,969.6L1574.8,972.8L1575.0,976.0L1575.3,979.2L1575.5,982.4L1575.7,985.7L1576.0,988.9L1576.2,992.1L1576.5,995.3L1576.8,998.6L1584.8,997.1L1584.5,993.9L1584.2,990.6L1584.0,987.4L1583.7,984.2L1583.5,981.0L1583.2,977.8L1583.0,974.6L1582.7,971.4L1582.5,968.2L1582.3,965.0L1582.0,961.8L1581.8,958.5ZM1567.1,968.4L1567.3,971.6L1567.6,974.7L1567.8,977.9L1568.0,981.0L1568.2,984.2L1568.5,987.3L1568.7,990.5L1568.9,993.6L1569.2,996.8L1569.4,999.9L1577.0,998.5L1576.7,995.4L1576.5,992.2L1576.2,989.1L1576.0,986.0L1575.8,982.8L1575.5,979.7L1575.3,976.6L1575.1,973.4L1574.8,970.3L1574.6,967.1ZM1584.8,1000.1L1585.1,1003.2L1585.4,1006.3L1585.5,1007.9L1585.5,1007.9L1585.5,1007.9L1585.5,1007.9L1585.5,1007.9L1585.5,1007.9L1585.5,1007.9L1585.5,1007.9L1593.2,1007.2L1593.2,1007.2L1593.2,1007.2L1593.2,1007.2L1593.2,1007.2L1593.2,1007.2L1593.2,1007.2L1593.2,1007.2L1592.9,1004.9L1592.6,1001.8L1592.4,998.7ZM1577.0,1001.6L1577.3,1004.8L1577.6,1008.0L1577.7,1008.7L1577.7,1008.7L1577.7,1008.7L1577.7,1008.7L1577.7,1008.7L1577.7,1008.7L1577.7,1008.7L1577.7,1008.7L1577.7,1008.7L1577.7,1008.7L1585.7,1007.9L1585.7,1007.9L1585.7,1007.9L1585.7,1007.9L1585.7,1007.9L1585.7,1007.9L1585.7,1007.9L1585.7,1007.9L1585.7,1007.9L1585.7,1007.9L1585.6,1006.4L1585.3,1003.2L1585.0,1000.0Z"/>
<path fill="#02a012" d="M311.3,131.4L311.4,135.0L312.2,138.8L313.5,142.5L315.4,145.9L317.9,148.9L320.6,151.5L323.5,153.6L326.4,155.5L329.3,157.1L332.2,158.5L335.0,159.9L338.3,147.1L335.7,146.1L333.1,145.0L330.8,143.9L328.6,142.7L326.7,141.4L325.1,139.9L323.7,138.3L322.7,136.5L321.9,134.5L321.5,132.3L321.3,130.4ZM343.2,163.8L346.0,165.0L348.9,166.3L351.7,167.4L354.6,168.6L357.5,169.7L360.4,170.9L363.3,171.9L366.1,173.0L369.0,174.1L371.9,175.1L374.8,176.1L377.3,158.1L374.4,157.4L371.5,156.7L368.7,156.0L365.8,155.3L363.0,154.6L360.2,153.9L357.4,153.1L354.6,152.3L351.8,151.5L349.0,150.7L346.2,149.8ZM383.2,178.9L386.1,179.9L389.0,180.8L391.9,181.8L394.7,182.8L397.6,183.8L400.4,184.8L403.2,185.8L406.0,186.8L408.8,187.8L411.5,188.9L414.3,189.9L418.0,169.0L415.0,168.1L412.0,167.2L409.1,166.3L406.1,165.5L403.1,164.7L400.2,163.9L397.2,163.1L394.3,162.4L391.3,161.6L388.4,160.9L385.5,160.1ZM421.9,192.8L424.6,193.9L427.3,195.0L430.1,196.2L432.8,197.3L435.5,198.5L438.2,199.7L440.9,201.0L443.6,202.2L446.3,203.4L449.0,204.7L451.7,206.0L457.6,185.0L454.8,183.7L452.0,182.5L449.1,181.2L446.3,180.0L443.4,178.7L440.6,177.5L437.7,176.4L434.8,175.2L431.9,174.1L429.0,172.9L426.1,171.8ZM459.1,209.6L461.8,210.9L464.5,212.3L467.2,213.6L469.9,215.0L472.6,216.4L475.3,217.7L478.0,219.1L480.7,220.5L483.4,221.9L486.1,223.2L488.9,224.6L495.4,203.3L492.7,201.9L489.9,200.6L487.2,199.2L484.5,197.9L481.8,196.6L479.0,195.2L476.3,193.9L473.5,192.5L470.8,191.2L468.0,189.9L465.2,188.6ZM496.3,228.4L499.1,229.7L501.8,231.1L504.6,232.4L507.4,233.8L510.1,235.1L512.9,236.4L515.7,237.7L518.5,239.1L521.3,240.3L524.1,241.6L527.0,242.9L532.5,221.3L529.8,220.0L527.1,218.8L524.4,217.5L521.7,216.2L519.0,214.9L516.3,213.6L513.6,212.3L510.9,211.0L508.2,209.7L505.5,208.3L502.8,207.0ZM534.7,246.3L537.6,247.5L540.4,248.7L543.3,249.9L546.1,251.0L549.0,252.2L551.9,253.3L554.7,254.4L557.6,255.6L560.5,256.7L563.3,257.8L566.2,258.9L570.5,236.9L567.7,235.9L564.8,234.8L562.1,233.7L559.3,232.6L556.5,231.5L553.7,230.3L550.9,229.2L548.2,228.1L545.4,226.9L542.7,225.7L539.9,224.6ZM574.0,261.8L576.9,262.8L579.8,263.9L582.6,264.9L585.5,266.0L588.4,267.0L591.3,268.1L594.1,269.1L597.0,270.1L599.9,271.2L602.8,272.2L605.6,273.2L609.4,251.2L606.6,250.2L603.7,249.1L600.8,248.1L598.0,247.1L595.1,246.1L592.3,245.0L589.4,244.0L586.6,243.0L583.7,241.9L580.9,240.9L578.1,239.8ZM613.3,276.0L616.2,277.0L619.1,278.0L621.9,279.1L624.8,280.1L627.6,281.1L630.4,282.2L633.3,283.2L636.1,284.3L638.9,285.4L641.8,286.4L644.6,287.5L648.8,265.6L645.9,264.5L643.0,263.4L640.2,262.3L637.3,261.3L634.4,260.2L631.5,259.1L628.6,258.1L625.8,257.1L622.9,256.0L620.0,255.0L617.1,254.0ZM652.1,290.4L655.0,291.5L657.8,292.6L660.6,293.8L663.4,294.9L666.2,296.0L669.0,297.2L671.8,298.3L674.6,299.5L677.4,300.6L680.2,301.8L683.0,303.0L687.9,281.2L685.0,280.0L682.2,278.8L679.4,277.6L676.5,276.5L673.7,275.3L670.8,274.2L668.0,273.0L665.1,271.9L662.2,270.7L659.4,269.6L656.5,268.5ZM690.4,306.1L693.2,307.3L696.0,308.5L698.8,309.7L701.6,310.9L704.4,312.1L707.2,313.3L710.0,314.6L712.7,315.8L715.5,317.0L718.3,318.2L721.1,319.5L726.4,297.8L723.6,296.5L720.8,295.3L718.0,294.1L715.2,292.8L712.3,291.6L709.5,290.4L706.7,289.2L703.9,287.9L701.1,286.7L698.3,285.5L695.4,284.3ZM728.5,322.8L731.3,324.0L734.1,325.3L736.8,326.5L739.6,327.8L742.4,329.0L745.2,330.3L748.0,331.5L750.7,332.8L753.5,334.0L756.3,335.3L759.1,336.5L764.5,314.9L761.7,313.6L759.0,312.3L756.2,311.1L753.4,309.8L750.6,308.6L747.8,307.3L745.0,306.1L742.2,304.8L739.4,303.6L736.6,302.3L733.8,301.1ZM766.5,339.9L769.3,341.1L772.1,342.4L774.9,343.7L777.6,344.9L780.4,346.2L783.2,347.4L786.0,348.7L788.8,349.9L791.6,351.2L794.4,352.5L797.2,353.7L802.5,332.0L799.7,330.7L797.0,329.5L794.2,328.2L791.4,327.0L788.6,325.7L785.8,324.5L783.0,323.2L780.2,322.0L777.5,320.7L774.7,319.4L771.9,318.2ZM804.6,357.0L807.4,358.2L810.3,359.5L813.1,360.7L815.9,361.9L818.7,363.2L821.5,364.4L824.4,365.6L827.2,366.8L830.0,368.0L832.9,369.2L835.7,370.4L840.6,348.6L837.8,347.4L835.0,346.2L832.2,345.0L829.4,343.8L826.6,342.6L823.8,341.4L821.0,340.2L818.2,338.9L815.4,337.7L812.6,336.5L809.8,335.2ZM843.2,373.6L846.0,374.8L848.9,375.9L851.7,377.1L854.6,378.3L857.5,379.4L860.3,380.6L863.2,381.7L866.1,382.9L868.9,384.0L871.8,385.1L874.7,386.3L878.9,364.3L876.0,363.2L873.2,362.1L870.4,360.9L867.6,359.8L864.8,358.7L861.9,357.5L859.1,356.4L856.3,355.2L853.5,354.0L850.7,352.9L847.9,351.7ZM882.3,389.1L885.2,390.2L888.0,391.3L890.9,392.4L893.8,393.5L896.8,394.5L899.7,395.6L902.6,396.6L905.5,397.7L908.4,398.7L911.3,399.8L914.2,400.8L917.6,378.7L914.8,377.6L911.9,376.6L909.0,375.6L906.2,374.6L903.3,373.5L900.5,372.5L897.6,371.4L894.8,370.3L891.9,369.3L889.1,368.2L886.2,367.1ZM921.8,403.4L924.7,404.4L927.6,405.4L930.6,406.4L933.5,407.4L936.4,408.4L939.3,409.4L942.3,410.3L945.2,411.3L948.1,412.3L951.1,413.2L954.0,414.2L956.9,392.0L954.0,391.1L951.1,390.1L948.2,389.1L945.3,388.2L942.4,387.2L939.5,386.2L936.6,385.2L933.7,384.3L930.9,383.3L928.0,382.3L925.1,381.3ZM961.6,416.7L964.5,417.6L967.4,418.6L970.4,419.5L973.3,420.4L976.3,421.4L979.2,422.3L982.1,423.2L985.1,424.2L988.0,425.1L990.9,426.0L993.9,426.9L996.5,404.7L993.6,403.8L990.6,402.8L987.7,401.9L984.8,401.0L981.9,400.1L979.0,399.1L976.0,398.2L973.1,397.3L970.2,396.3L967.3,395.4L964.4,394.5ZM1001.5,429.3L1004.4,430.2L1007.3,431.1L1010.3,432.0L1013.2,432.9L1016.1,433.9L1019.1,434.8L1022.0,435.7L1025.0,436.6L1027.9,437.5L1030.8,438.4L1033.8,439.3L1036.3,417.1L1033.3,416.2L1030.4,415.2L1027.5,414.3L1024.5,413.4L1021.6,412.5L1018.7,411.6L1015.7,410.7L1012.8,409.8L1009.9,408.9L1006.9,408.0L1004.0,407.0ZM1041.3,441.7L1044.2,442.6L1047.2,443.5L1050.1,444.4L1053.0,445.3L1056.0,446.2L1058.9,447.2L1061.8,448.1L1064.7,449.0L1067.7,449.9L1070.6,450.8L1073.5,451.8L1076.1,429.5L1073.2,428.6L1070.3,427.7L1067.3,426.7L1064.4,425.8L1061.4,424.9L1058.5,424.0L1055.6,423.1L1052.6,422.1L1049.7,421.2L1046.7,420.3L1043.8,419.4ZM1081.0,454.2L1083.9,455.1L1086.8,456.0L1089.8,457.0L1092.7,457.9L1095.6,458.9L1098.5,459.8L1101.4,460.8L1104.3,461.8L1107.2,462.7L1110.1,463.7L1113.0,464.7L1116.0,442.5L1113.1,441.5L1110.1,440.5L1107.2,439.5L1104.2,438.6L1101.3,437.6L1098.4,436.6L1095.4,435.7L1092.5,434.7L1089.5,433.8L1086.6,432.9L1083.7,431.9ZM1120.4,467.2L1123.3,468.2L1126.2,469.2L1129.1,470.2L1132.0,471.2L1134.9,472.2L1137.8,473.3L1140.7,474.3L1143.5,475.3L1146.4,476.4L1149.3,477.4L1152.2,478.4L1155.6,456.0L1152.7,455.0L1149.8,454.0L1146.9,453.0L1144.0,451.9L1141.0,450.9L1138.1,449.9L1135.2,448.9L1132.2,447.9L1129.3,446.9L1126.4,445.9L1123.4,444.9ZM1159.5,481.1L1162.4,482.2L1165.3,483.3L1168.1,484.3L1171.0,485.4L1173.9,486.5L1176.7,487.6L1179.6,488.7L1182.5,489.8L1185.3,490.9L1188.2,492.0L1191.1,493.1L1195.0,470.5L1192.1,469.4L1189.2,468.3L1186.3,467.2L1183.4,466.1L1180.5,465.0L1177.6,464.0L1174.7,462.9L1171.8,461.8L1168.9,460.8L1165.9,459.7L1163.0,458.7ZM1198.3,495.9L1201.1,497.0L1204.0,498.1L1206.9,499.3L1209.7,500.4L1212.6,501.6L1215.4,502.7L1218.2,503.9L1221.1,505.0L1223.9,506.2L1226.8,507.3L1229.6,508.5L1234.1,485.7L1231.2,484.6L1228.3,483.4L1225.4,482.3L1222.5,481.1L1219.7,480.0L1216.8,478.9L1213.9,477.7L1211.0,476.6L1208.1,475.5L1205.2,474.4L1202.3,473.3ZM1236.7,511.5L1239.5,512.7L1242.3,513.9L1245.1,515.1L1247.9,516.3L1250.7,517.5L1253.4,518.7L1256.2,520.0L1258.9,521.3L1261.6,522.6L1264.3,523.9L1267.0,525.2L1273.0,502.5L1270.1,501.2L1267.2,499.8L1264.4,498.5L1261.5,497.2L1258.6,496.0L1255.7,494.7L1252.8,493.5L1249.9,492.3L1247.0,491.1L1244.2,489.9L1241.3,488.7ZM1273.7,528.9L1276.3,530.3L1278.8,531.8L1281.4,533.4L1283.9,534.9L1286.4,536.5L1288.9,538.1L1291.3,539.7L1293.7,541.4L1296.1,543.1L1298.5,544.8L1300.8,546.6L1311.0,523.3L1308.3,521.5L1305.5,519.7L1302.7,518.0L1299.9,516.4L1297.1,514.8L1294.3,513.2L1291.5,511.7L1288.6,510.2L1285.8,508.7L1282.9,507.3L1280.0,505.9ZM1306.9,551.6L1309.1,553.5L1311.3,555.5L1313.5,557.5L1315.6,559.5L1317.8,561.5L1319.9,563.6L1321.9,565.7L1324.0,567.9L1326.0,570.0L1328.0,572.2L1330.0,574.5L1344.5,551.0L1342.2,548.7L1339.8,546.4L1337.4,544.1L1335.0,541.9L1332.5,539.7L1330.0,537.6L1327.5,535.5L1324.9,533.4L1322.3,531.4L1319.7,529.4L1317.0,527.4ZM1335.1,580.6L1337.1,582.9L1338.9,585.3L1340.8,587.7L1342.7,590.1L1344.5,592.5L1346.3,595.0L1348.1,597.5L1349.9,600.0L1351.6,602.5L1353.3,605.0L1355.1,607.5L1372.2,583.4L1370.2,580.8L1368.2,578.3L1366.2,575.7L1364.2,573.1L1362.1,570.6L1360.0,568.1L1357.9,565.6L1355.7,563.1L1353.5,560.6L1351.3,558.2L1349.1,555.8ZM1359.4,613.9L1361.1,616.5L1362.8,619.1L1364.5,621.8L1366.1,624.4L1367.8,627.1L1369.4,629.7L1371.1,632.4L1372.7,635.1L1374.3,637.8L1376.0,640.5L1377.6,643.2L1395.7,618.3L1394.0,615.6L1392.2,612.8L1390.5,610.1L1388.7,607.4L1387.0,604.6L1385.2,601.9L1383.3,599.2L1381.5,596.5L1379.6,593.8L1377.8,591.1L1375.9,588.4ZM1381.2,649.3L1382.8,652.1L1384.3,654.8L1385.9,657.6L1387.5,660.3L1389.0,663.1L1390.5,665.9L1392.1,668.6L1393.6,671.4L1395.1,674.2L1396.6,677.0L1398.0,679.8L1417.0,654.4L1415.4,651.5L1413.8,648.7L1412.2,645.9L1410.5,643.0L1408.9,640.2L1407.2,637.4L1405.6,634.6L1403.9,631.8L1402.3,629.0L1400.6,626.3L1398.9,623.5ZM1401.2,685.9L1402.6,688.7L1404.1,691.5L1405.5,694.4L1406.9,697.2L1408.4,700.1L1409.8,702.9L1411.1,705.7L1412.5,708.6L1413.9,711.5L1415.2,714.3L1416.5,717.2L1436.5,691.6L1435.1,688.7L1433.6,685.7L1432.1,682.8L1430.6,679.8L1429.1,676.9L1427.6,674.0L1426.1,671.1L1424.5,668.2L1423.0,665.3L1421.4,662.4L1419.8,659.5ZM1419.1,722.9L1420.4,725.8L1421.7,728.7L1423.0,731.7L1424.2,734.6L1425.5,737.5L1426.7,740.5L1427.9,743.4L1429.1,746.4L1430.3,749.3L1431.4,752.3L1432.6,755.3L1454.0,730.6L1452.7,727.5L1451.4,724.4L1450.1,721.4L1448.8,718.3L1447.4,715.2L1446.1,712.2L1444.7,709.1L1443.3,706.1L1442.0,703.1L1440.5,700.1L1439.1,697.0ZM1434.6,760.8L1435.6,763.6L1436.6,766.3L1437.6,769.1L1438.6,771.9L1439.5,774.7L1440.5,777.5L1441.4,780.3L1442.3,783.1L1443.2,785.9L1444.1,788.7L1444.9,791.5L1445.8,794.3L1468.8,770.8L1467.8,767.8L1466.8,764.9L1465.8,762.0L1464.8,759.0L1463.8,756.1L1462.7,753.2L1461.7,750.3L1460.6,747.4L1459.5,744.5L1458.4,741.6L1457.2,738.7L1456.1,735.9ZM1462.5,779.5L1463.4,782.4L1464.3,785.3L1465.1,788.2L1466.0,791.1L1466.8,794.0L1467.6,797.0L1468.4,799.9L1469.2,802.8L1470.0,805.8L1470.8,808.7L1471.5,811.6L1472.2,814.6L1479.9,809.5L1479.2,806.5L1478.4,803.5L1477.6,800.5L1476.8,797.5L1476.0,794.6L1475.2,791.6L1474.3,788.6L1473.5,785.7L1472.6,782.7L1471.7,779.8L1470.8,776.8L1469.8,773.9ZM1452.4,787.0L1453.2,789.9L1454.1,792.8L1454.9,795.7L1455.8,798.6L1456.6,801.6L1457.4,804.5L1458.1,807.4L1458.9,810.3L1459.6,813.3L1460.4,816.2L1461.1,819.1L1461.7,822.1L1462.4,825.0L1463.1,828.0L1463.7,830.9L1474.7,824.2L1474.0,821.2L1473.3,818.1L1472.6,815.1L1471.9,812.1L1471.2,809.1L1470.4,806.1L1469.6,803.1L1468.8,800.1L1468.0,797.1L1467.2,794.1L1466.3,791.2L1465.4,788.2L1464.5,785.2L1463.6,782.3L1462.7,779.3ZM1447.8,801.5L1448.6,804.3L1449.4,807.1L1450.1,809.9L1450.8,812.8L1451.5,815.6L1452.2,818.4L1452.9,821.2L1453.6,824.1L1454.2,826.9L1454.8,829.8L1455.4,832.6L1456.0,835.5L1463.9,830.8L1463.3,827.9L1462.7,825.0L1462.0,822.1L1461.4,819.2L1460.7,816.3L1460.0,813.4L1459.3,810.5L1458.5,807.7L1457.8,804.8L1457.0,801.9L1456.2,799.1L1455.4,796.2ZM1472.6,816.4L1473.4,819.6L1474.1,822.7L1474.8,825.9L1475.5,829.1L1476.1,832.3L1476.7,835.5L1477.3,838.7L1477.9,842.0L1478.5,845.2L1479.0,848.4L1479.6,851.6L1487.9,848.9L1487.4,845.6L1486.8,842.4L1486.3,839.1L1485.7,835.8L1485.0,832.6L1484.4,829.3L1483.7,826.0L1483.0,822.8L1482.3,819.5L1481.5,816.3L1480.8,813.1ZM1461.5,820.8L1462.1,823.8L1462.8,826.8L1463.4,829.7L1464.1,832.7L1464.7,835.7L1465.2,838.7L1465.8,841.7L1466.3,844.7L1466.9,847.7L1467.4,850.7L1467.9,853.7L1468.3,856.7L1468.8,859.7L1469.2,862.7L1469.6,865.7L1470.0,868.8L1470.4,871.8L1470.8,874.8L1482.6,871.5L1482.3,868.5L1481.9,865.4L1481.4,862.3L1481.0,859.2L1480.6,856.1L1480.1,853.0L1479.6,849.9L1479.1,846.9L1478.6,843.8L1478.0,840.7L1477.4,837.6L1476.8,834.6L1476.2,831.5L1475.6,828.5L1475.0,825.4L1474.3,822.4L1473.6,819.3L1472.9,816.3ZM1457.5,842.9L1458.0,846.0L1458.6,849.1L1459.1,852.1L1459.6,855.2L1460.1,858.3L1460.5,861.4L1461.0,864.6L1461.4,867.7L1461.8,870.8L1462.2,873.9L1462.6,877.1L1471.1,874.8L1470.7,871.6L1470.3,868.4L1469.8,865.2L1469.4,862.1L1468.9,858.9L1468.5,855.8L1468.0,852.6L1467.5,849.5L1466.9,846.3L1466.4,843.2L1465.8,840.0ZM1480.5,857.8L1481.0,861.0L1481.4,864.3L1481.8,867.5L1482.3,870.7L1482.7,874.0L1483.0,877.2L1483.4,880.4L1483.7,883.7L1484.1,886.9L1484.4,890.1L1484.7,893.4L1493.2,891.2L1492.9,888.0L1492.6,884.7L1492.3,881.4L1491.9,878.2L1491.5,874.9L1491.1,871.6L1490.7,868.3L1490.3,865.1L1489.9,861.8L1489.4,858.5L1488.9,855.2ZM1469.0,861.3L1469.4,864.3L1469.8,867.3L1470.2,870.4L1470.6,873.4L1471.0,876.4L1471.3,879.5L1471.7,882.5L1472.0,885.5L1472.3,888.6L1472.6,891.6L1472.9,894.7L1473.2,897.7L1473.5,900.8L1473.7,903.8L1474.0,906.9L1474.2,910.0L1474.5,913.0L1474.7,916.1L1486.7,913.3L1486.5,910.2L1486.2,907.1L1486.0,904.1L1485.7,901.0L1485.4,897.9L1485.1,894.8L1484.8,891.7L1484.5,888.6L1484.2,885.5L1483.9,882.4L1483.6,879.3L1483.2,876.3L1482.8,873.2L1482.5,870.1L1482.1,867.0L1481.7,863.9L1481.2,860.8L1480.8,857.7ZM1463.3,883.1L1463.6,886.2L1463.9,889.4L1464.2,892.6L1464.5,895.7L1464.8,898.9L1465.1,902.1L1465.4,905.2L1465.7,908.4L1465.9,911.6L1466.2,914.8L1466.4,918.0L1475.0,916.0L1474.7,912.8L1474.5,909.6L1474.2,906.4L1474.0,903.2L1473.7,900.0L1473.4,896.8L1473.1,893.6L1472.8,890.4L1472.5,887.2L1472.1,884.0L1471.8,880.9ZM1485.3,899.6L1485.6,902.8L1485.8,906.0L1486.1,909.3L1486.4,912.5L1486.6,915.7L1486.9,918.9L1487.1,922.2L1487.3,925.4L1487.6,928.6L1487.8,931.8L1488.0,935.1L1496.6,933.2L1496.4,929.9L1496.1,926.7L1495.9,923.5L1495.7,920.2L1495.4,917.0L1495.2,913.7L1494.9,910.5L1494.7,907.2L1494.4,904.0L1494.1,900.7L1493.8,897.5ZM1473.6,902.4L1473.9,905.4L1474.1,908.5L1474.4,911.6L1474.6,914.6L1474.8,917.7L1475.1,920.8L1475.3,923.8L1475.5,926.9L1475.7,930.0L1476.0,933.0L1476.2,936.1L1476.4,939.2L1476.6,942.2L1476.8,945.3L1477.0,948.4L1477.2,951.5L1477.4,954.6L1477.7,957.6L1489.7,955.0L1489.5,951.9L1489.3,948.8L1489.0,945.7L1488.8,942.7L1488.6,939.6L1488.4,936.5L1488.2,933.4L1488.0,930.3L1487.8,927.3L1487.5,924.2L1487.3,921.1L1487.1,918.0L1486.8,914.9L1486.6,911.8L1486.4,908.8L1486.1,905.7L1485.8,902.6L1485.6,899.5ZM1466.9,924.1L1467.1,927.3L1467.3,930.5L1467.6,933.7L1467.8,936.9L1468.0,940.1L1468.2,943.4L1468.5,946.6L1468.7,949.8L1468.9,953.0L1469.1,956.3L1469.4,959.5L1478.0,957.6L1477.7,954.4L1477.5,951.1L1477.3,947.9L1477.1,944.7L1476.8,941.5L1476.6,938.2L1476.4,935.0L1476.2,931.8L1475.9,928.6L1475.7,925.4L1475.5,922.2ZM1488.4,941.3L1488.7,944.5L1488.9,947.7L1489.1,950.9L1489.3,954.1L1489.6,957.3L1489.8,960.6L1490.0,963.8L1490.3,967.0L1490.5,970.2L1490.8,973.4L1491.0,976.6L1499.6,974.6L1499.3,971.4L1499.1,968.2L1498.9,965.0L1498.6,961.8L1498.4,958.6L1498.2,955.4L1497.9,952.2L1497.7,949.0L1497.5,945.8L1497.3,942.6L1497.0,939.4ZM1476.7,943.9L1476.9,946.9L1477.1,950.0L1477.3,953.1L1477.6,956.2L1477.8,959.3L1478.0,962.3L1478.2,965.4L1478.5,968.5L1478.7,971.6L1478.9,974.7L1479.2,977.8L1479.5,980.9L1479.7,983.9L1480.0,987.0L1480.3,990.1L1480.6,993.2L1480.9,996.3L1481.2,999.4L1493.1,996.3L1492.8,993.3L1492.5,990.2L1492.2,987.2L1492.0,984.1L1491.7,981.1L1491.4,978.0L1491.2,975.0L1490.9,971.9L1490.7,968.8L1490.5,965.8L1490.2,962.7L1490.0,959.6L1489.8,956.6L1489.6,953.5L1489.4,950.4L1489.2,947.3L1488.9,944.3L1488.7,941.2ZM1469.8,965.7L1470.1,969.0L1470.3,972.2L1470.6,975.5L1470.8,978.7L1471.1,982.0L1471.4,985.2L1471.7,988.5L1472.0,991.7L1472.3,995.0L1472.6,998.3L1473.0,1001.5L1481.5,999.3L1481.1,996.1L1480.8,992.8L1480.5,989.6L1480.2,986.4L1479.9,983.1L1479.7,979.9L1479.4,976.7L1479.1,973.5L1478.9,970.2L1478.6,967.0L1478.4,963.8ZM1491.5,982.7L1491.8,985.9L1492.1,989.1L1492.4,992.3L1492.7,995.5L1493.1,998.7L1493.4,1001.9L1493.8,1005.1L1494.1,1007.6L1494.1,1007.6L1494.1,1007.6L1494.1,1007.6L1502.7,1006.6L1502.7,1006.6L1502.7,1006.6L1502.6,1006.0L1502.3,1002.8L1501.9,999.7L1501.6,996.5L1501.3,993.4L1501.0,990.2L1500.7,987.0L1500.4,983.9L1500.1,980.7ZM1479.9,985.6L1480.1,988.6L1480.4,991.7L1480.7,994.8L1481.0,997.9L1481.4,1001.0L1481.7,1004.1L1482.0,1007.2L1482.3,1009.0L1482.3,1009.0L1482.3,1009.0L1482.3,1009.0L1482.3,1009.0L1482.3,1009.0L1482.3,1009.0L1482.3,1009.0L1482.3,1009.0L1482.3,1009.0L1482.3,1009.0L1494.3,1007.6L1494.3,1007.6L1494.3,1007.6L1494.3,1007.6L1494.3,1007.6L1494.3,1007.6L1494.3,1007.6L1494.3,1007.6L1494.3,1007.6L1494.3,1007.6L1494.3,1007.0L1493.9,1004.0L1493.6,1001.0L1493.3,997.9L1493.0,994.9L1492.7,991.8L1492.4,988.8L1492.1,985.7L1491.8,982.7ZM1473.6,1007.8L1473.9,1010.0L1473.9,1010.0L1473.9,1010.0L1473.9,1010.0L1473.9,1010.0L1473.9,1010.0L1473.9,1010.0L1473.9,1010.0L1473.9,1010.0L1473.9,1010.0L1473.9,1010.0L1482.5,1009.0L1482.5,1009.0L1482.5,1009.0L1482.5,1009.0L1482.5,1009.0L1482.5,1009.0L1482.5,1009.0L1482.5,1009.0L1482.5,1009.0L1482.5,1009.0L1482.5,1008.8L1482.1,1005.5Z"/>
</g>
<g id="legend" filter="url(#al)"><rect x="838" y="812.0" width="126" height="17" fill="#0175b6" shape-rendering="crispEdges"/><text transform="translate(1000.50,840.00)" font-size="55" letter-spacing="-0.3">C/20</text><rect x="838" y="890.0" width="126" height="17" fill="#ff7f00" shape-rendering="crispEdges"/><text transform="translate(1000.50,918.00)" font-size="55" letter-spacing="-0.3">C/5</text><rect x="838" y="968.0" width="126" height="17" fill="#02a012" shape-rendering="crispEdges"/><text transform="translate(1000.50,996.00)" font-size="55" letter-spacing="-0.3">C/2</text></g>
<g fill="#000" shape-rendering="crispEdges"><rect x="253" y="31" width="24" height="7"/><rect x="253" y="171" width="24" height="7"/><rect x="253" y="310" width="24" height="7"/><rect x="253" y="448" width="24" height="7"/><rect x="253" y="588" width="24" height="6"/><rect x="253" y="727" width="24" height="7"/><rect x="253" y="866" width="24" height="7"/><rect x="253" y="1005" width="24" height="7"/></g>
<path fill="#000" fill-rule="evenodd" shape-rendering="crispEdges" d="M246,12H1717V1060H246ZM253,19V1053H1710V19Z"/>
<g id="labels" filter="url(#al)">
<g id="ylabels"><text transform="translate(221.30,57.60)" text-anchor="end" letter-spacing="-0.3">4.25</text><text transform="translate(221.30,196.75)" text-anchor="end" letter-spacing="-0.3">4.00</text><text transform="translate(221.30,335.90)" text-anchor="end" letter-spacing="-0.3">3.75</text><text transform="translate(221.30,475.05)" text-anchor="end" letter-spacing="-0.3">3.50</text><text transform="translate(221.30,614.20)" text-anchor="end" letter-spacing="-0.3">3.25</text><text transform="translate(221.30,753.35)" text-anchor="end" letter-spacing="-0.3">3.00</text><text transform="translate(221.30,892.50)" text-anchor="end" letter-spacing="-0.3">2.75</text><text transform="translate(221.30,1031.65)" text-anchor="end" letter-spacing="-0.3">2.50</text></g>
<g id="xlabels"><text transform="translate(315.00,1157.10)" text-anchor="middle" letter-spacing="0">0</text><text transform="translate(731.40,1157.10)" text-anchor="middle" letter-spacing="0">1</text><text transform="translate(1147.80,1157.10)" text-anchor="middle" letter-spacing="0">2</text><text transform="translate(1564.20,1157.10)" text-anchor="middle" letter-spacing="0">3</text></g>
<text transform="translate(981.00,1247.00)" text-anchor="middle" letter-spacing="-0.48">Capacity [Ah]</text>
<text transform="translate(54.90,535.60) rotate(-90)" text-anchor="middle" letter-spacing="-0.21">Voltage [V]</text>
</g>
</svg>
</body></html>
